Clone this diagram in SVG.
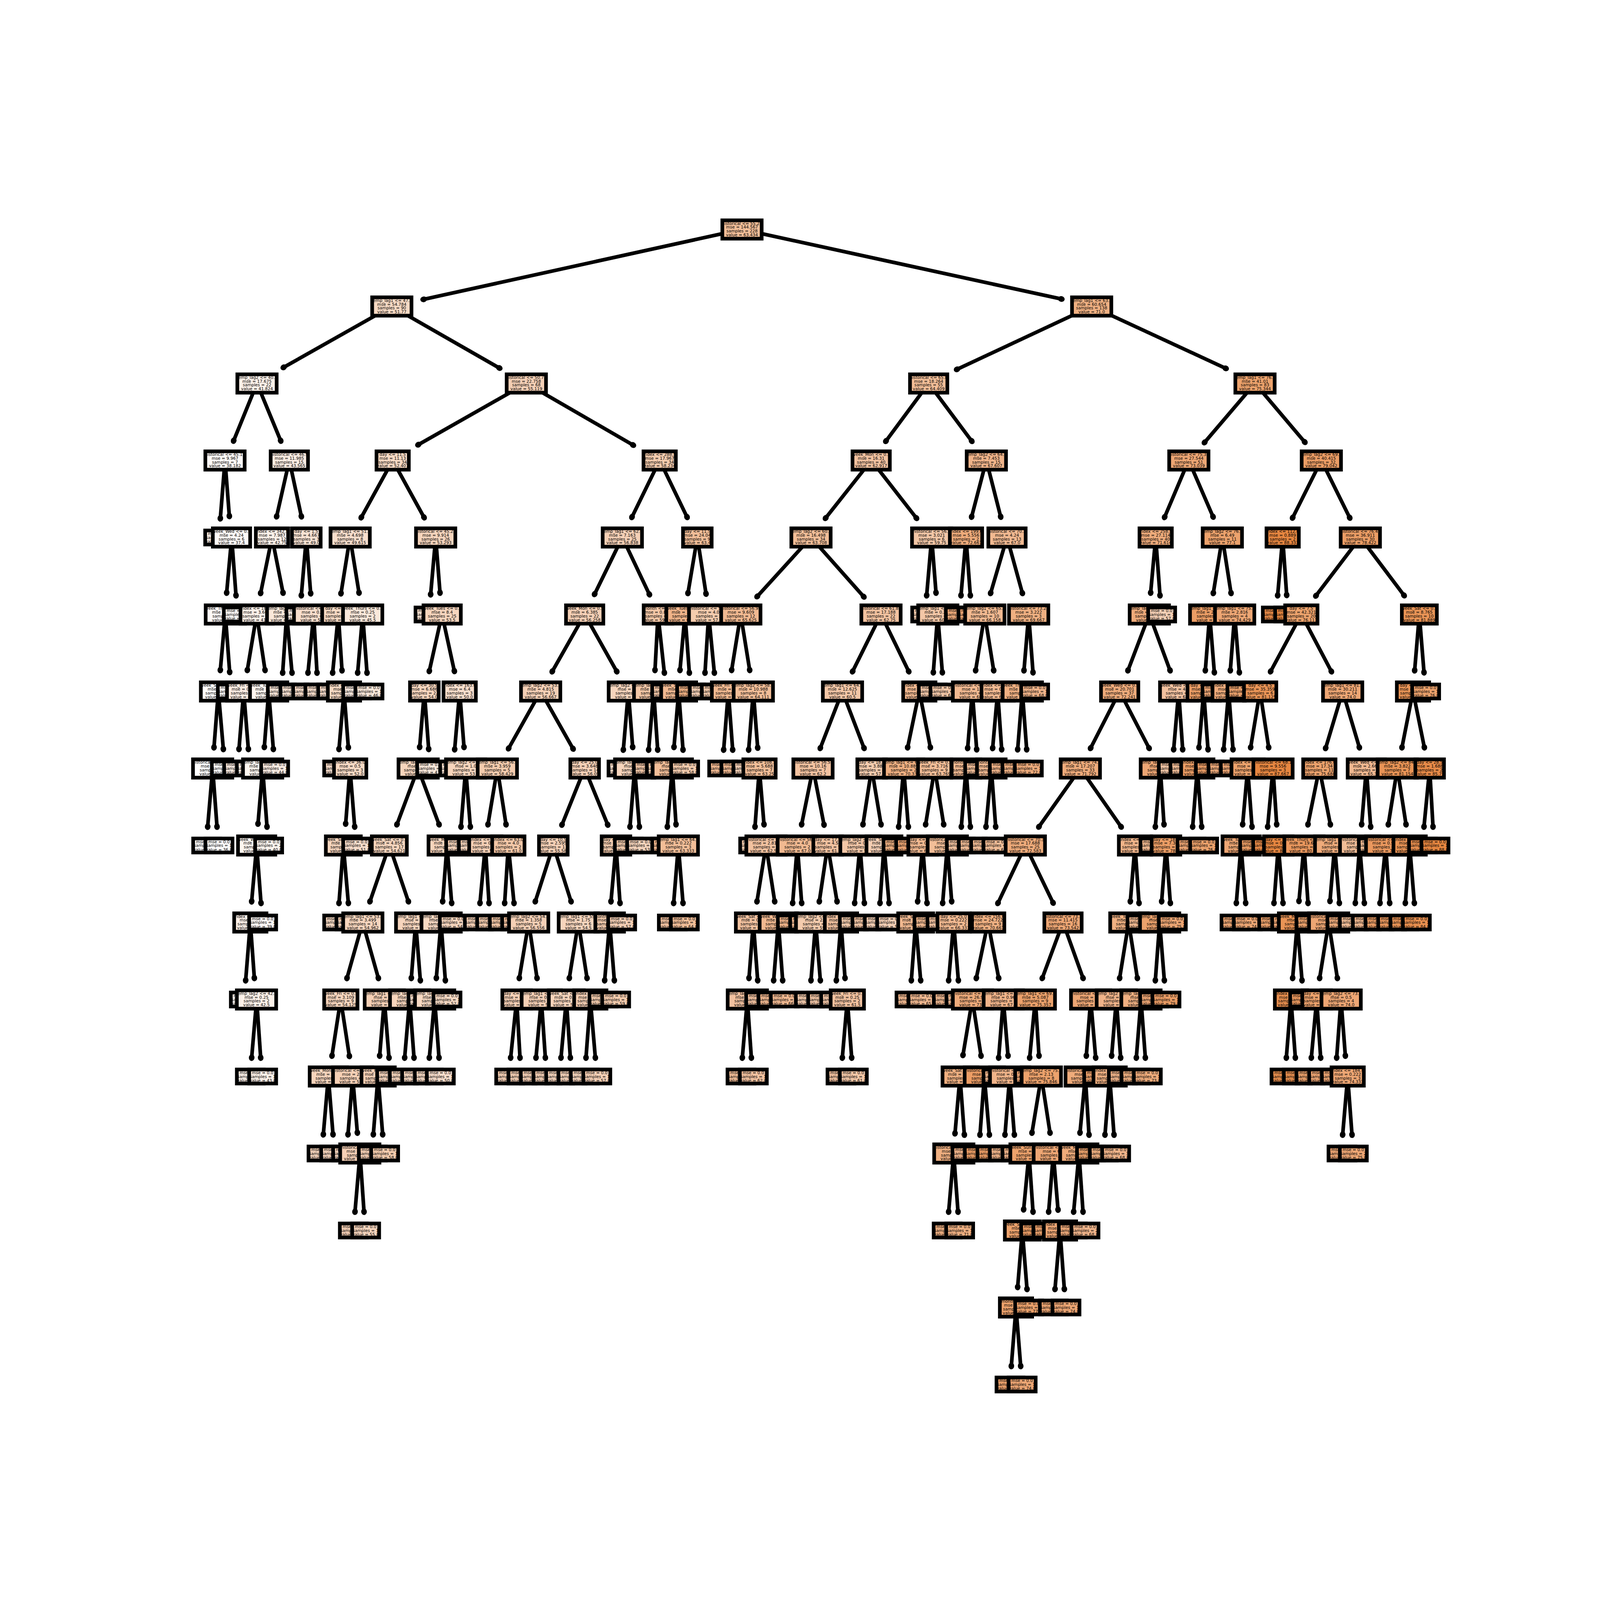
<svg xmlns="http://www.w3.org/2000/svg" width="4800" height="4800" viewBox="0 0 4800 4800">
<style>
:root{display:block;width:100vw;height:100vh;overflow:hidden}
text{font:12.4px "DejaVu Sans",sans-serif;text-anchor:middle;fill:#000}
.s{fill:none;stroke:#000;stroke-width:11}
#edges path{fill:none;stroke:#000;stroke-width:11;marker-end:url(#h)}
.c36{fill:#fff}.c38{fill:#fefaf8}.c40{fill:#fdf6f0}.c42{fill:#fcf1e9}.c44{fill:#fbece2}.c46{fill:#fae8da}.c48{fill:#f9e3d3}.c50{fill:#f8decc}.c52{fill:#f7dac4}.c54{fill:#f6d5bd}.c56{fill:#f5d0b6}.c58{fill:#f4ccae}.c60{fill:#f3c7a7}.c62{fill:#f2c2a0}.c64{fill:#f2be98}.c66{fill:#f1b991}.c68{fill:#f0b48a}.c70{fill:#efb082}.c72{fill:#eeab7b}.c74{fill:#eda674}.c76{fill:#eca26c}.c78{fill:#eb9d65}.c80{fill:#ea985e}.c82{fill:#e99456}.c84{fill:#e88f4f}.c86{fill:#e78a48}.c88{fill:#e68640}
</style>
<defs>
<marker id="h" markerUnits="userSpaceOnUse" markerWidth="30" markerHeight="30" refX="15" refY="15" orient="auto"><ellipse cx="15" cy="15" rx="10" ry="8.5"/></marker>
<rect id="a" x="-59" y="-27.5" width="118" height="55"/>
<rect id="b" x="-56" y="-27.5" width="112" height="55"/>
<rect id="d" x="-52.5" y="-27.5" width="105" height="55"/>
<rect id="e" x="-50" y="-27.5" width="100" height="55"/>
<rect id="f" x="-48.5" y="-27.5" width="97" height="55"/>
<rect id="g" x="-43" y="-27.5" width="86" height="55"/>
<rect id="l" x="-40.5" y="-21" width="81" height="42"/>
</defs>
<rect width="4800" height="4800" fill="#fff"/>
<g id="edges">
<path d="M2226 688L1271 898"/><path d="M2226 688L3184 897"/>
<path d="M1175 919L851 1102"/><path d="M1175 919L1498 1104"/><path d="M3275 919L2871 1108"/><path d="M3275 919L3677 1105"/>
<path d="M771 1150L701 1322"/><path d="M771 1150L842 1322"/><path d="M1579 1150L1255 1334"/><path d="M1579 1150L1899 1335"/><path d="M2786 1150L2658 1323"/><path d="M2786 1150L2915 1323"/><path d="M3765 1150L3614 1327"/><path d="M3765 1150L3914 1326"/>
<path d="M675 1381L661 1555"/><path d="M675 1381L688 1548"/><path d="M868 1381L830 1549"/><path d="M868 1381L904 1549"/><path d="M1178 1381L1084 1552"/><path d="M1178 1381L1272 1552"/><path d="M1979 1381L1896 1551"/><path d="M1979 1381L2061 1551"/><path d="M2614 1381L2477 1554"/><path d="M2614 1381L2749 1554"/><path d="M2959 1381L2915 1550"/><path d="M2959 1381L3002 1550"/><path d="M3566 1381L3494 1551"/><path d="M3566 1381L3639 1550"/><path d="M3964 1381L3878 1553"/><path d="M3964 1381L4049 1553"/>
<path d="M695 1612L680 1778"/><path d="M695 1612L708 1786"/><path d="M816 1612L782 1779"/><path d="M816 1612L849 1778"/><path d="M919 1612L904 1786"/><path d="M919 1612L932 1780"/><path d="M1050 1612L1023 1780"/><path d="M1050 1612L1077 1778"/><path d="M1307 1612L1292 1783"/><path d="M1307 1612L1320 1778"/><path d="M1867 1612L1784 1782"/><path d="M1867 1612L1948 1783"/><path d="M2092 1612L2064 1779"/><path d="M2092 1612L2118 1781"/><path d="M2433 1612L2272 1789"/><path d="M2433 1612L2591 1790"/><path d="M2795 1612L2780 1786"/><path d="M2795 1612L2808 1778"/><path d="M2898 1612L2883 1786"/><path d="M2898 1612L2911 1786"/><path d="M3021 1612L2972 1779"/><path d="M3021 1612L3067 1779"/><path d="M3467 1612L3452 1778"/><path d="M3467 1612L3480 1786"/><path d="M3667 1612L3640 1779"/><path d="M3667 1612L3693 1779"/><path d="M3848 1612L3833 1786"/><path d="M3848 1612L3860 1785"/><path d="M4081 1612L3948 1787"/><path d="M4081 1612L4212 1786"/>
<path d="M676 1843L661 2010"/><path d="M676 1843L689 2016"/><path d="M770 1843L742 2010"/><path d="M770 1843L795 2010"/><path d="M860 1843L848 2018"/><path d="M860 1843L876 2018"/><path d="M941 1843L924 2018"/><path d="M941 1843L951 2018"/><path d="M1015 1843L998 2018"/><path d="M1015 1843L1026 2011"/><path d="M1088 1843L1073 2018"/><path d="M1088 1843L1101 2018"/><path d="M1326 1843L1288 2013"/><path d="M1326 1843L1363 2013"/><path d="M1754 1843L1657 2014"/><path d="M1754 1843L1850 2014"/><path d="M1974 1843L1965 2010"/><path d="M1974 1843L1993 2018"/><path d="M2055 1843L2040 2010"/><path d="M2055 1843L2068 2018"/><path d="M2126 1843L2115 2018"/><path d="M2126 1843L2143 2018"/><path d="M2222 1843L2195 2010"/><path d="M2222 1843L2249 2010"/><path d="M2643 1843L2558 2014"/><path d="M2643 1843L2726 2014"/><path d="M2813 1843L2800 2017"/><path d="M2813 1843L2827 2017"/><path d="M2954 1843L2927 2011"/><path d="M2954 1843L2981 2011"/><path d="M3086 1843L3072 2011"/><path d="M3086 1843L3099 2017"/><path d="M3448 1843L3384 2011"/><path d="M3448 1843L3510 2011"/><path d="M3629 1843L3616 2011"/><path d="M3629 1843L3643 2017"/><path d="M3704 1843L3691 2011"/><path d="M3704 1843L3718 2017"/><path d="M3904 1843L3812 2014"/><path d="M3904 1843L3994 2014"/><path d="M4258 1843L4244 2011"/><path d="M4258 1843L4272 2017"/>
<path d="M655 2074L642 2242"/><path d="M655 2074L670 2247"/><path d="M731 2074L717 2247"/><path d="M731 2074L745 2247"/><path d="M806 2074L793 2241"/><path d="M806 2074L820 2247"/><path d="M1032 2074L1017 2247"/><path d="M1032 2074L1045 2242"/><path d="M1273 2074L1259 2241"/><path d="M1273 2074L1286 2247"/><path d="M1379 2074L1364 2248"/><path d="M1379 2074L1392 2241"/><path d="M1622 2074L1526 2245"/><path d="M1622 2074L1719 2246"/><path d="M1885 2074L1870 2249"/><path d="M1885 2074L1898 2241"/><path d="M1961 2074L1946 2249"/><path d="M1961 2074L1973 2249"/><path d="M2036 2074L2022 2241"/><path d="M2036 2074L2049 2249"/><path d="M2185 2074L2171 2249"/><path d="M2185 2074L2198 2249"/><path d="M2260 2074L2246 2249"/><path d="M2260 2074L2273 2243"/><path d="M2527 2074L2461 2244"/><path d="M2527 2074L2592 2244"/><path d="M2758 2074L2723 2242"/><path d="M2758 2074L2791 2242"/><path d="M2917 2074L2903 2244"/><path d="M2917 2074L2930 2248"/><path d="M2993 2074L2978 2244"/><path d="M2993 2074L3005 2248"/><path d="M3067 2074L3053 2248"/><path d="M3067 2074L3080 2248"/><path d="M3359 2074L3272 2244"/><path d="M3359 2074L3447 2244"/><path d="M3536 2074L3521 2248"/><path d="M3536 2074L3548 2248"/><path d="M3611 2074L3597 2242"/><path d="M3611 2074L3624 2248"/><path d="M3686 2074L3671 2248"/><path d="M3686 2074L3699 2248"/><path d="M3780 2074L3752 2242"/><path d="M3780 2074L3806 2242"/><path d="M4028 2074L3977 2244"/><path d="M4028 2074L4078 2242"/><path d="M4239 2074L4206 2242"/><path d="M4239 2074L4273 2242"/>
<path d="M638 2305L623 2480"/><path d="M638 2305L651 2480"/><path d="M788 2305L774 2471"/><path d="M788 2305L801 2480"/><path d="M1050 2305L1037 2471"/><path d="M1050 2305L1064 2480"/><path d="M1254 2305L1191 2473"/><path d="M1254 2305L1317 2473"/><path d="M1397 2305L1383 2480"/><path d="M1397 2305L1411 2480"/><path d="M1492 2305L1464 2473"/><path d="M1492 2305L1518 2473"/><path d="M1754 2305L1686 2474"/><path d="M1754 2305L1823 2474"/><path d="M1904 2305L1890 2480"/><path d="M1904 2305L1918 2480"/><path d="M2017 2305L2002 2480"/><path d="M2017 2305L2028 2473"/><path d="M2278 2305L2265 2480"/><path d="M2278 2305L2292 2473"/><path d="M2439 2305L2405 2473"/><path d="M2439 2305L2472 2474"/><path d="M2615 2305L2589 2473"/><path d="M2615 2305L2643 2473"/><path d="M2711 2305L2696 2480"/><path d="M2711 2305L2725 2480"/><path d="M2804 2305L2777 2473"/><path d="M2804 2305L2831 2473"/><path d="M2898 2305L2884 2480"/><path d="M2898 2305L2911 2480"/><path d="M2974 2305L2958 2480"/><path d="M2974 2305L2987 2480"/><path d="M3241 2305L3117 2480"/><path d="M3241 2305L3363 2480"/><path d="M3481 2305L3466 2480"/><path d="M3481 2305L3492 2473"/><path d="M3592 2305L3578 2480"/><path d="M3592 2305L3605 2480"/><path d="M3743 2305L3728 2473"/><path d="M3743 2305L3756 2480"/><path d="M3819 2305L3803 2480"/><path d="M3819 2305L3830 2473"/><path d="M3958 2305L3924 2473"/><path d="M3958 2305L3991 2473"/><path d="M4099 2305L4085 2473"/><path d="M4099 2305L4112 2480"/><path d="M4192 2305L4165 2473"/><path d="M4192 2305L4218 2473"/><path d="M4289 2305L4272 2480"/><path d="M4289 2305L4299 2480"/>
<path d="M770 2536L755 2704"/><path d="M770 2536L783 2709"/><path d="M1030 2536L1017 2709"/><path d="M1030 2536L1045 2709"/><path d="M1168 2536L1110 2704"/><path d="M1168 2536L1225 2704"/><path d="M1341 2536L1328 2704"/><path d="M1341 2536L1355 2709"/><path d="M1456 2536L1440 2709"/><path d="M1456 2536L1467 2709"/><path d="M1525 2536L1514 2709"/><path d="M1525 2536L1542 2709"/><path d="M1660 2536L1606 2704"/><path d="M1660 2536L1713 2704"/><path d="M1848 2536L1833 2704"/><path d="M1848 2536L1860 2709"/><path d="M2035 2536L2021 2709"/><path d="M2035 2536L2049 2709"/><path d="M2298 2536L2271 2704"/><path d="M2298 2536L2324 2704"/><path d="M2392 2536L2378 2709"/><path d="M2392 2536L2405 2709"/><path d="M2483 2536L2458 2704"/><path d="M2483 2536L2511 2704"/><path d="M2580 2536L2564 2709"/><path d="M2580 2536L2593 2709"/><path d="M2652 2536L2640 2709"/><path d="M2652 2536L2667 2709"/><path d="M2768 2536L2753 2704"/><path d="M2768 2536L2781 2709"/><path d="M2842 2536L2828 2709"/><path d="M2842 2536L2855 2704"/><path d="M3076 2536L2994 2709"/><path d="M3076 2536L3159 2708"/><path d="M3405 2536L3391 2704"/><path d="M3405 2536L3417 2709"/><path d="M3498 2536L3485 2704"/><path d="M3498 2536L3511 2709"/><path d="M3723 2536L3709 2709"/><path d="M3723 2536L3737 2709"/><path d="M3835 2536L3822 2709"/><path d="M3835 2536L3849 2709"/><path d="M3912 2536L3897 2703"/><path d="M3912 2536L3924 2709"/><path d="M4004 2536L3990 2703"/><path d="M4004 2536L4018 2709"/><path d="M4079 2536L4066 2709"/><path d="M4079 2536L4093 2709"/><path d="M4157 2536L4140 2709"/><path d="M4157 2536L4169 2709"/><path d="M4229 2536L4216 2709"/><path d="M4229 2536L4243 2709"/>
<path d="M751 2767L737 2941"/><path d="M751 2767L763 2934"/><path d="M1088 2767L1041 2934"/><path d="M1088 2767L1135 2934"/><path d="M1247 2767L1234 2934"/><path d="M1247 2767L1261 2941"/><path d="M1323 2767L1309 2934"/><path d="M1323 2767L1336 2941"/><path d="M1586 2767L1558 2934"/><path d="M1586 2767L1611 2934"/><path d="M1735 2767L1708 2934"/><path d="M1735 2767L1761 2934"/><path d="M1829 2767L1814 2941"/><path d="M1829 2767L1843 2941"/><path d="M2260 2767L2247 2934"/><path d="M2260 2767L2273 2941"/><path d="M2335 2767L2321 2941"/><path d="M2335 2767L2348 2941"/><path d="M2447 2767L2433 2941"/><path d="M2447 2767L2461 2941"/><path d="M2523 2767L2509 2941"/><path d="M2523 2767L2535 2934"/><path d="M2747 2767L2734 2941"/><path d="M2747 2767L2762 2941"/><path d="M2861 2767L2846 2941"/><path d="M2861 2767L2875 2941"/><path d="M2964 2767L2929 2934"/><path d="M2964 2767L2996 2934"/><path d="M3189 2767L3127 2934"/><path d="M3189 2767L3249 2934"/><path d="M3386 2767L3359 2934"/><path d="M3386 2767L3412 2934"/><path d="M3479 2767L3466 2941"/><path d="M3479 2767L3493 2941"/><path d="M3892 2767L3878 2934"/><path d="M3892 2767L3906 2941"/><path d="M3986 2767L3959 2934"/><path d="M3986 2767L4012 2934"/>
<path d="M770 2998L755 3173"/><path d="M770 2998L782 3173"/><path d="M1022 2998L996 3167"/><path d="M1022 2998L1048 3168"/><path d="M1153 2998L1139 3167"/><path d="M1153 2998L1167 3173"/><path d="M1229 2998L1214 3173"/><path d="M1229 2998L1242 3173"/><path d="M1304 2998L1288 3173"/><path d="M1304 2998L1317 3173"/><path d="M1550 2998L1532 3173"/><path d="M1550 2998L1560 3173"/><path d="M1624 2998L1608 3173"/><path d="M1624 2998L1636 3173"/><path d="M1699 2998L1683 3173"/><path d="M1699 2998L1711 3173"/><path d="M1771 2998L1758 3173"/><path d="M1771 2998L1786 3173"/><path d="M2242 2998L2227 3173"/><path d="M2242 2998L2254 3173"/><path d="M2542 2998L2527 3173"/><path d="M2542 2998L2555 3173"/><path d="M2917 2998L2889 3165"/><path d="M2917 2998L2943 3167"/><path d="M3010 2998L2996 3173"/><path d="M3010 2998L3024 3167"/><path d="M3106 2998L3089 3173"/><path d="M3106 2998L3117 3167"/><path d="M3272 2998L3259 3167"/><path d="M3272 2998L3287 3173"/><path d="M3349 2998L3335 3167"/><path d="M3349 2998L3362 3173"/><path d="M3423 2998L3409 3173"/><path d="M3423 2998L3436 3173"/><path d="M3873 2998L3859 3173"/><path d="M3873 2998L3886 3173"/><path d="M3950 2998L3934 3173"/><path d="M3950 2998L3962 3173"/><path d="M4023 2998L4010 3173"/><path d="M4023 2998L4036 3167"/>
<path d="M985 3229L970 3403"/><path d="M985 3229L999 3403"/><path d="M1058 3229L1044 3403"/><path d="M1058 3229L1072 3398"/><path d="M1134 3229L1120 3403"/><path d="M1134 3229L1148 3403"/><path d="M2880 3229L2865 3400"/><path d="M2880 3229L2893 3404"/><path d="M2953 3229L2940 3404"/><path d="M2953 3229L2968 3404"/><path d="M3029 3229L3015 3404"/><path d="M3029 3229L3043 3404"/><path d="M3124 3229L3096 3398"/><path d="M3124 3229L3150 3398"/><path d="M3256 3229L3240 3398"/><path d="M3256 3229L3267 3404"/><path d="M3329 3229L3315 3404"/><path d="M3329 3229L3342 3404"/><path d="M4043 3229L4028 3404"/><path d="M4043 3229L4056 3404"/>
<path d="M1080 3460L1065 3635"/><path d="M1080 3460L1092 3635"/><path d="M2861 3460L2846 3635"/><path d="M2861 3460L2874 3635"/><path d="M3087 3460L3071 3628"/><path d="M3087 3460L3099 3635"/><path d="M3160 3460L3146 3635"/><path d="M3160 3460L3174 3629"/><path d="M3237 3460L3221 3635"/><path d="M3237 3460L3249 3635"/>
<path d="M3067 3691L3053 3861"/><path d="M3067 3691L3081 3867"/><path d="M3180 3691L3165 3867"/><path d="M3180 3691L3193 3867"/>
<path d="M3048 3922L3034 4098"/><path d="M3048 3922L3062 4098"/>
</g>
<g id="r0" transform="translate(0 688.5)">
<g id="n0_1" class="c64" transform="translate(2226)"><use href="#a"/><text y="-14">historical &lt;= 55.25<tspan x="0" y="-2.5">mse = 144.567</tspan><tspan x="0" y="9">samples = 228</tspan><tspan x="0" y="20.5">value = 63.434</tspan></text><use href="#a" class="s"/></g>
</g>
<g id="r1" transform="translate(0 919.5)">
<g id="n1_1" class="c52" transform="translate(1175.5)"><use href="#a"/><text y="-14">temp_lag1 &lt;= 47.5<tspan x="0" y="-2.5">mse = 54.784</tspan><tspan x="0" y="9">samples = 90</tspan><tspan x="0" y="20.5">value = 51.77</tspan></text><use href="#a" class="s"/></g>
<g id="n1_2" class="c70" transform="translate(3275)"><use href="#a"/><text y="-14">temp_lag1 &lt;= 63.5<tspan x="0" y="-2.5">mse = 60.654</tspan><tspan x="0" y="9">samples = 138</tspan><tspan x="0" y="20.5">value = 71.0</tspan></text><use href="#a" class="s"/></g>
</g>
<g id="r2" transform="translate(0 1150.5)">
<g id="n2_1" class="c42" transform="translate(771)"><use href="#a"/><text y="-14">temp_lag2 &lt;= 40.5<tspan x="0" y="-2.5">mse = 17.675</tspan><tspan x="0" y="9">samples = 22</tspan><tspan x="0" y="20.5">value = 41.824</tspan></text><use href="#a" class="s"/></g>
<g id="n2_2" class="c56" transform="translate(1579)"><use href="#a"/><text y="-14">historical &lt;= 50.75<tspan x="0" y="-2.5">mse = 22.758</tspan><tspan x="0" y="9">samples = 68</tspan><tspan x="0" y="20.5">value = 55.119</tspan></text><use href="#a" class="s"/></g>
<g id="n2_3" class="c64" transform="translate(2786)"><use href="#b"/><text y="-14">historical &lt;= 65.8<tspan x="0" y="-2.5">mse = 18.264</tspan><tspan x="0" y="9">samples = 55</tspan><tspan x="0" y="20.5">value = 64.409</tspan></text><use href="#b" class="s"/></g>
<g id="n2_4" class="c76" transform="translate(3765)"><use href="#a"/><text y="-14">temp_lag1 &lt;= 76.5<tspan x="0" y="-2.5">mse = 41.01</tspan><tspan x="0" y="9">samples = 83</tspan><tspan x="0" y="20.5">value = 75.344</tspan></text><use href="#a" class="s"/></g>
</g>
<g id="r3" transform="translate(0 1381.5)">
<g id="n3_1" class="c38" transform="translate(675)"><use href="#a"/><text y="-14">historical &lt;= 45.15<tspan x="0" y="-2.5">mse = 9.967</tspan><tspan x="0" y="9">samples = 7</tspan><tspan x="0" y="20.5">value = 38.182</tspan></text><use href="#a" class="s"/></g>
<g id="n3_2" class="c44" transform="translate(868)"><use href="#b"/><text y="-14">historical &lt;= 46.9<tspan x="0" y="-2.5">mse = 11.985</tspan><tspan x="0" y="9">samples = 15</tspan><tspan x="0" y="20.5">value = 43.565</tspan></text><use href="#b" class="s"/></g>
<g id="n3_3" class="c52" transform="translate(1178)"><use href="#f"/><text y="-14">day &lt;= 11.5<tspan x="0" y="-2.5">mse = 11.13</tspan><tspan x="0" y="9">samples = 34</tspan><tspan x="0" y="20.5">value = 52.407</tspan></text><use href="#f" class="s"/></g>
<g id="n3_4" class="c58" transform="translate(1979)"><use href="#f"/><text y="-14">index &lt;= 288.5<tspan x="0" y="-2.5">mse = 17.967</tspan><tspan x="0" y="9">samples = 34</tspan><tspan x="0" y="20.5">value = 58.234</tspan></text><use href="#f" class="s"/></g>
<g id="n3_5" class="c62" transform="translate(2613.5)"><use href="#b"/><text y="-14">week_Mon &lt;= 0.5<tspan x="0" y="-2.5">mse = 16.31</tspan><tspan x="0" y="9">samples = 40</tspan><tspan x="0" y="20.5">value = 62.917</tspan></text><use href="#b" class="s"/></g>
<g id="n3_6" class="c68" transform="translate(2959)"><use href="#a"/><text y="-14">temp_lag2 &lt;= 64.5<tspan x="0" y="-2.5">mse = 7.453</tspan><tspan x="0" y="9">samples = 15</tspan><tspan x="0" y="20.5">value = 67.607</tspan></text><use href="#a" class="s"/></g>
<g id="n3_7" class="c74" transform="translate(3566.5)"><use href="#a"/><text y="-14">historical &lt;= 75.35<tspan x="0" y="-2.5">mse = 27.544</tspan><tspan x="0" y="9">samples = 51</tspan><tspan x="0" y="20.5">value = 73.039</tspan></text><use href="#a" class="s"/></g>
<g id="n3_8" class="c78" transform="translate(3964)"><use href="#a"/><text y="-14">temp_lag2 &lt;= 69.5<tspan x="0" y="-2.5">mse = 40.415</tspan><tspan x="0" y="9">samples = 32</tspan><tspan x="0" y="20.5">value = 79.042</tspan></text><use href="#a" class="s"/></g>
</g>
<g id="r4" transform="translate(0 1612.5)">
<g id="n4_1" class="c42" transform="translate(656)"><use href="#l"/><text y="-7">mse = 0.0<tspan x="0" y="4.5">samples = 1</tspan><tspan x="0" y="16.5">value = 42.0</tspan></text><use href="#l" class="s"/></g>
<g id="n4_2" class="c38" transform="translate(694.5)"><use href="#b"/><text y="-14">week_Wed &lt;= 0.5<tspan x="0" y="-2.5">mse = 4.24</tspan><tspan x="0" y="9">samples = 6</tspan><tspan x="0" y="20.5">value = 37.4</tspan></text><use href="#b" class="s"/></g>
<g id="n4_3" class="c42" transform="translate(816)"><use href="#f"/><text y="-14">index &lt;= 342.5<tspan x="0" y="-2.5">mse = 7.987</tspan><tspan x="0" y="9">samples = 12</tspan><tspan x="0" y="20.5">value = 42.75</tspan></text><use href="#f" class="s"/></g>
<g id="n4_4" class="c48" transform="translate(919)"><use href="#g"/><text y="-14">day &lt;= 1.5<tspan x="0" y="-2.5">mse = 4.667</tspan><tspan x="0" y="9">samples = 3</tspan><tspan x="0" y="20.5">value = 49.0</tspan></text><use href="#g" class="s"/></g>
<g id="n4_5" class="c50" transform="translate(1050.5)"><use href="#a"/><text y="-14">temp_lag1 &lt;= 51.5<tspan x="0" y="-2.5">mse = 4.698</tspan><tspan x="0" y="9">samples = 8</tspan><tspan x="0" y="20.5">value = 49.615</tspan></text><use href="#a" class="s"/></g>
<g id="n4_6" class="c54" transform="translate(1307)"><use href="#a"/><text y="-14">historical &lt;= 45.25<tspan x="0" y="-2.5">mse = 9.914</tspan><tspan x="0" y="9">samples = 26</tspan><tspan x="0" y="20.5">value = 53.293</tspan></text><use href="#a" class="s"/></g>
<g id="n4_7" class="c56" transform="translate(1867)"><use href="#a"/><text y="-14">temp_lag1 &lt;= 62.0<tspan x="0" y="-2.5">mse = 7.163</tspan><tspan x="0" y="9">samples = 25</tspan><tspan x="0" y="20.5">value = 56.838</tspan></text><use href="#a" class="s"/></g>
<g id="n4_8" class="c64" transform="translate(2092)"><use href="#g"/><text y="-14">day &lt;= 11.5<tspan x="0" y="-2.5">mse = 24.04</tspan><tspan x="0" y="9">samples = 9</tspan><tspan x="0" y="20.5">value = 63.4</tspan></text><use href="#g" class="s"/></g>
<g id="n4_9" class="c64" transform="translate(2433)"><use href="#a"/><text y="-14">temp_lag2 &lt;= 60.5<tspan x="0" y="-2.5">mse = 16.498</tspan><tspan x="0" y="9">samples = 34</tspan><tspan x="0" y="20.5">value = 63.708</tspan></text><use href="#a" class="s"/></g>
<g id="n4_10" class="c60" transform="translate(2795)"><use href="#a"/><text y="-14">historical &lt;= 56.1<tspan x="0" y="-2.5">mse = 3.021</tspan><tspan x="0" y="9">samples = 6</tspan><tspan x="0" y="20.5">value = 59.75</tspan></text><use href="#a" class="s"/></g>
<g id="n4_11" class="c72" transform="translate(2898)"><use href="#f"/><text y="-14">index &lt;= 199.0<tspan x="0" y="-2.5">mse = 5.556</tspan><tspan x="0" y="9">samples = 2</tspan><tspan x="0" y="20.5">value = 72.667</tspan></text><use href="#f" class="s"/></g>
<g id="n4_12" class="c66" transform="translate(3021)"><use href="#b"/><text y="-14">historical &lt;= 70.3<tspan x="0" y="-2.5">mse = 4.24</tspan><tspan x="0" y="9">samples = 13</tspan><tspan x="0" y="20.5">value = 67.0</tspan></text><use href="#b" class="s"/></g>
<g id="n4_13" class="c72" transform="translate(3467)"><use href="#f"/><text y="-14">index &lt;= 258.5<tspan x="0" y="-2.5">mse = 27.114</tspan><tspan x="0" y="9">samples = 40</tspan><tspan x="0" y="20.5">value = 71.614</tspan></text><use href="#f" class="s"/></g>
<g id="n4_14" class="c76" transform="translate(3667)"><use href="#a"/><text y="-14">temp_lag2 &lt;= 76.5<tspan x="0" y="-2.5">mse = 6.49</tspan><tspan x="0" y="9">samples = 11</tspan><tspan x="0" y="20.5">value = 77.1</tspan></text><use href="#a" class="s"/></g>
<g id="n4_15" class="c88" transform="translate(3848)"><use href="#f"/><text y="-14">index &lt;= 112.0<tspan x="0" y="-2.5">mse = 0.889</tspan><tspan x="0" y="9">samples = 2</tspan><tspan x="0" y="20.5">value = 88.333</tspan></text><use href="#f" class="s"/></g>
<g id="n4_16" class="c78" transform="translate(4081)"><use href="#a"/><text y="-14">historical &lt;= 76.45<tspan x="0" y="-2.5">mse = 36.911</tspan><tspan x="0" y="9">samples = 30</tspan><tspan x="0" y="20.5">value = 78.422</tspan></text><use href="#a" class="s"/></g>
</g>
<g id="r5" transform="translate(0 1843.5)">
<g id="n5_1" class="c38" transform="translate(676)"><use href="#a"/><text y="-14">week_Thurs &lt;= 0.5<tspan x="0" y="-2.5">mse = 0.667</tspan><tspan x="0" y="9">samples = 3</tspan><tspan x="0" y="20.5">value = 36.5</tspan></text><use href="#a" class="s"/></g>
<g id="n5_2" class="c38" transform="translate(712)"><use href="#l"/><text y="-7">mse = 0.0<tspan x="0" y="4.5">samples = 2</tspan><tspan x="0" y="16.5">value = 39.0</tspan></text><use href="#l" class="s"/></g>
<g id="n5_3" class="c42" transform="translate(770)"><use href="#f"/><text y="-14">index &lt;= 184.5<tspan x="0" y="-2.5">mse = 3.604</tspan><tspan x="0" y="9">samples = 10</tspan><tspan x="0" y="20.5">value = 41.6</tspan></text><use href="#f" class="s"/></g>
<g id="n5_4" class="c46" transform="translate(860)"><use href="#a"/><text y="-14">temp_lag1 &lt;= 46.5<tspan x="0" y="-2.5">mse = 0.889</tspan><tspan x="0" y="9">samples = 2</tspan><tspan x="0" y="20.5">value = 46.667</tspan></text><use href="#a" class="s"/></g>
<g id="n5_5" class="c44" transform="translate(900)"><use href="#l"/><text y="-7">mse = 0.0<tspan x="0" y="4.5">samples = 1</tspan><tspan x="0" y="16.5">value = 43.0</tspan></text><use href="#l" class="s"/></g>
<g id="n5_6" class="c50" transform="translate(941)"><use href="#a"/><text y="-14">historical &lt;= 50.8<tspan x="0" y="-2.5">mse = 0.25</tspan><tspan x="0" y="9">samples = 2</tspan><tspan x="0" y="20.5">value = 50.5</tspan></text><use href="#a" class="s"/></g>
<g id="n5_7" class="c52" transform="translate(1015)"><use href="#f"/><text y="-14">day &lt;= 12.5<tspan x="0" y="-2.5">mse = 1.25</tspan><tspan x="0" y="9">samples = 6</tspan><tspan x="0" y="20.5">value = 51.5</tspan></text><use href="#f" class="s"/></g>
<g id="n5_8" class="c46" transform="translate(1088)"><use href="#a"/><text y="-14">week_Thurs &lt;= 0.5<tspan x="0" y="-2.5">mse = 0.25</tspan><tspan x="0" y="9">samples = 2</tspan><tspan x="0" y="20.5">value = 45.5</tspan></text><use href="#a" class="s"/></g>
<g id="n5_9" class="c48" transform="translate(1287)"><use href="#l"/><text y="-7">mse = 0.0<tspan x="0" y="4.5">samples = 1</tspan><tspan x="0" y="16.5">value = 48.0</tspan></text><use href="#l" class="s"/></g>
<g id="n5_10" class="c54" transform="translate(1326.5)"><use href="#b"/><text y="-14">week_Tues &lt;= 0.5<tspan x="0" y="-2.5">mse = 8.4</tspan><tspan x="0" y="9">samples = 25</tspan><tspan x="0" y="20.5">value = 53.5</tspan></text><use href="#b" class="s"/></g>
<g id="n5_11" class="c56" transform="translate(1754)"><use href="#b"/><text y="-14">week_Mon &lt;= 0.5<tspan x="0" y="-2.5">mse = 6.385</tspan><tspan x="0" y="9">samples = 22</tspan><tspan x="0" y="20.5">value = 56.258</tspan></text><use href="#b" class="s"/></g>
<g id="n5_12" class="c60" transform="translate(1974)"><use href="#g"/><text y="-14">month &lt;= 7.5<tspan x="0" y="-2.5">mse = 0.889</tspan><tspan x="0" y="9">samples = 3</tspan><tspan x="0" y="20.5">value = 59.333</tspan></text><use href="#g" class="s"/></g>
<g id="n5_13" class="c68" transform="translate(2055)"><use href="#b"/><text y="-14">week_Tues &lt;= 0.5<tspan x="0" y="-2.5">mse = 1.889</tspan><tspan x="0" y="9">samples = 4</tspan><tspan x="0" y="20.5">value = 68.333</tspan></text><use href="#b" class="s"/></g>
<g id="n5_14" class="c58" transform="translate(2126)"><use href="#a"/><text y="-14">historical &lt;= 53.4<tspan x="0" y="-2.5">mse = 4.0</tspan><tspan x="0" y="9">samples = 2</tspan><tspan x="0" y="20.5">value = 57.0</tspan></text><use href="#a" class="s"/></g>
<g id="n5_15" class="c66" transform="translate(2222.5)"><use href="#a"/><text y="-14">historical &lt;= 56.95<tspan x="0" y="-2.5">mse = 9.609</tspan><tspan x="0" y="9">samples = 12</tspan><tspan x="0" y="20.5">value = 65.625</tspan></text><use href="#a" class="s"/></g>
<g id="n5_16" class="c62" transform="translate(2643)"><use href="#a"/><text y="-14">historical &lt;= 61.85<tspan x="0" y="-2.5">mse = 17.188</tspan><tspan x="0" y="9">samples = 22</tspan><tspan x="0" y="20.5">value = 62.75</tspan></text><use href="#a" class="s"/></g>
<g id="n5_17" class="c58" transform="translate(2777)"><use href="#l"/><text y="-7">mse = 0.0<tspan x="0" y="4.5">samples = 1</tspan><tspan x="0" y="16.5">value = 58.0</tspan></text><use href="#l" class="s"/></g>
<g id="n5_18" class="c60" transform="translate(2813.5)"><use href="#a"/><text y="-14">temp_lag1 &lt;= 63.5<tspan x="0" y="-2.5">mse = 0.222</tspan><tspan x="0" y="9">samples = 4</tspan><tspan x="0" y="20.5">value = 60.667</tspan></text><use href="#a" class="s"/></g>
<g id="n5_19" class="c72" transform="translate(2878)"><use href="#l"/><text y="-7">mse = 0.0<tspan x="0" y="4.5">samples = 1</tspan><tspan x="0" y="16.5">value = 71.0</tspan></text><use href="#l" class="s"/></g>
<g id="n5_20" class="c74" transform="translate(2916)"><use href="#l"/><text y="-7">mse = 0.0<tspan x="0" y="4.5">samples = 1</tspan><tspan x="0" y="16.5">value = 75.0</tspan></text><use href="#l" class="s"/></g>
<g id="n5_21" class="c66" transform="translate(2954.5)"><use href="#a"/><text y="-14">temp_lag1 &lt;= 65.5<tspan x="0" y="-2.5">mse = 1.607</tspan><tspan x="0" y="9">samples = 10</tspan><tspan x="0" y="20.5">value = 66.158</tspan></text><use href="#a" class="s"/></g>
<g id="n5_22" class="c70" transform="translate(3086)"><use href="#a"/><text y="-14">historical &lt;= 73.25<tspan x="0" y="-2.5">mse = 3.222</tspan><tspan x="0" y="9">samples = 3</tspan><tspan x="0" y="20.5">value = 69.667</tspan></text><use href="#a" class="s"/></g>
<g id="n5_23" class="c72" transform="translate(3448)"><use href="#a"/><text y="-14">temp_lag2 &lt;= 69.5<tspan x="0" y="-2.5">mse = 22.147</tspan><tspan x="0" y="9">samples = 39</tspan><tspan x="0" y="20.5">value = 71.9</tspan></text><use href="#a" class="s"/></g>
<g id="n5_24" class="c56" transform="translate(3485)"><use href="#l"/><text y="-7">mse = 0.0<tspan x="0" y="4.5">samples = 1</tspan><tspan x="0" y="16.5">value = 57.0</tspan></text><use href="#l" class="s"/></g>
<g id="n5_25" class="c78" transform="translate(3629)"><use href="#a"/><text y="-14">temp_lag1 &lt;= 71.5<tspan x="0" y="-2.5">mse = 2.188</tspan><tspan x="0" y="9">samples = 7</tspan><tspan x="0" y="20.5">value = 78.5</tspan></text><use href="#a" class="s"/></g>
<g id="n5_26" class="c74" transform="translate(3704)"><use href="#a"/><text y="-14">temp_lag1 &lt;= 75.5<tspan x="0" y="-2.5">mse = 2.816</tspan><tspan x="0" y="9">samples = 4</tspan><tspan x="0" y="20.5">value = 74.429</tspan></text><use href="#a" class="s"/></g>
<g id="n5_27" class="c86" transform="translate(3829)"><use href="#l"/><text y="-7">mse = 0.0<tspan x="0" y="4.5">samples = 1</tspan><tspan x="0" y="16.5">value = 87.0</tspan></text><use href="#l" class="s"/></g>
<g id="n5_28" class="c88" transform="translate(3866)"><use href="#l"/><text y="-7">mse = 0.0<tspan x="0" y="4.5">samples = 1</tspan><tspan x="0" y="16.5">value = 89.0</tspan></text><use href="#l" class="s"/></g>
<g id="n5_29" class="c76" transform="translate(3904)"><use href="#f"/><text y="-14">day &lt;= 7.5<tspan x="0" y="-2.5">mse = 42.321</tspan><tspan x="0" y="9">samples = 20</tspan><tspan x="0" y="20.5">value = 76.111</tspan></text><use href="#f" class="s"/></g>
<g id="n5_30" class="c82" transform="translate(4258)"><use href="#d"/><text y="-14">week_Sat &lt;= 0.5<tspan x="0" y="-2.5">mse = 8.765</tspan><tspan x="0" y="9">samples = 10</tspan><tspan x="0" y="20.5">value = 81.889</tspan></text><use href="#d" class="s"/></g>
</g>
<g id="r6" transform="translate(0 2074.5)">
<g id="n6_1" class="c36" transform="translate(655)"><use href="#d"/><text y="-14">week_Sat &lt;= 0.5<tspan x="0" y="-2.5">mse = 0.5</tspan><tspan x="0" y="9">samples = 3</tspan><tspan x="0" y="20.5">value = 36.5</tspan></text><use href="#d" class="s"/></g>
<g id="n6_2" class="c38" transform="translate(694)"><use href="#l"/><text y="-7">mse = 0.0<tspan x="0" y="4.5">samples = 1</tspan><tspan x="0" y="16.5">value = 38.0</tspan></text><use href="#l" class="s"/></g>
<g id="n6_3" class="c44" transform="translate(731)"><use href="#e"/><text y="-14">week_Fri &lt;= 0.5<tspan x="0" y="-2.5">mse = 0.25</tspan><tspan x="0" y="9">samples = 2</tspan><tspan x="0" y="20.5">value = 44.5</tspan></text><use href="#e" class="s"/></g>
<g id="n6_4" class="c40" transform="translate(806)"><use href="#b"/><text y="-14">week_Tues &lt;= 0.5<tspan x="0" y="-2.5">mse = 1.139</tspan><tspan x="0" y="9">samples = 8</tspan><tspan x="0" y="20.5">value = 40.9</tspan></text><use href="#b" class="s"/></g>
<g id="n6_5" class="c46" transform="translate(844)"><use href="#l"/><text y="-7">mse = 0.0<tspan x="0" y="4.5">samples = 1</tspan><tspan x="0" y="16.5">value = 46.0</tspan></text><use href="#l" class="s"/></g>
<g id="n6_6" class="c48" transform="translate(882)"><use href="#l"/><text y="-7">mse = 0.0<tspan x="0" y="4.5">samples = 1</tspan><tspan x="0" y="16.5">value = 48.0</tspan></text><use href="#l" class="s"/></g>
<g id="n6_7" class="c50" transform="translate(920)"><use href="#l"/><text y="-7">mse = 0.0<tspan x="0" y="4.5">samples = 1</tspan><tspan x="0" y="16.5">value = 50.0</tspan></text><use href="#l" class="s"/></g>
<g id="n6_8" class="c50" transform="translate(957)"><use href="#l"/><text y="-7">mse = 0.0<tspan x="0" y="4.5">samples = 1</tspan><tspan x="0" y="16.5">value = 51.0</tspan></text><use href="#l" class="s"/></g>
<g id="n6_9" class="c50" transform="translate(995)"><use href="#l"/><text y="-7">mse = 0.0<tspan x="0" y="4.5">samples = 1</tspan><tspan x="0" y="16.5">value = 50.0</tspan></text><use href="#l" class="s"/></g>
<g id="n6_10" class="c52" transform="translate(1032)"><use href="#f"/><text y="-14">index &lt;= 112.0<tspan x="0" y="-2.5">mse = 1.0</tspan><tspan x="0" y="9">samples = 4</tspan><tspan x="0" y="20.5">value = 52.0</tspan></text><use href="#f" class="s"/></g>
<g id="n6_11" class="c44" transform="translate(1070)"><use href="#l"/><text y="-7">mse = 0.0<tspan x="0" y="4.5">samples = 1</tspan><tspan x="0" y="16.5">value = 45.0</tspan></text><use href="#l" class="s"/></g>
<g id="n6_12" class="c46" transform="translate(1107)"><use href="#l"/><text y="-7">mse = 0.0<tspan x="0" y="4.5">samples = 1</tspan><tspan x="0" y="16.5">value = 46.0</tspan></text><use href="#l" class="s"/></g>
<g id="n6_13" class="c54" transform="translate(1273)"><use href="#g"/><text y="-14">day &lt;= 30.5<tspan x="0" y="-2.5">mse = 6.686</tspan><tspan x="0" y="9">samples = 22</tspan><tspan x="0" y="20.5">value = 54.0</tspan></text><use href="#g" class="s"/></g>
<g id="n6_14" class="c50" transform="translate(1379)"><use href="#f"/><text y="-14">index &lt;= 163.0<tspan x="0" y="-2.5">mse = 6.4</tspan><tspan x="0" y="9">samples = 3</tspan><tspan x="0" y="20.5">value = 50.0</tspan></text><use href="#f" class="s"/></g>
<g id="n6_15" class="c56" transform="translate(1622)"><use href="#a"/><text y="-14">temp_lag2 &lt;= 53.5<tspan x="0" y="-2.5">mse = 4.815</tspan><tspan x="0" y="9">samples = 19</tspan><tspan x="0" y="20.5">value = 56.667</tspan></text><use href="#a" class="s"/></g>
<g id="n6_16" class="c54" transform="translate(1885)"><use href="#a"/><text y="-14">temp_lag2 &lt;= 58.5<tspan x="0" y="-2.5">mse = 8.0</tspan><tspan x="0" y="9">samples = 3</tspan><tspan x="0" y="20.5">value = 54.0</tspan></text><use href="#a" class="s"/></g>
<g id="n6_17" class="c60" transform="translate(1961)"><use href="#a"/><text y="-14">temp_lag2 &lt;= 56.5<tspan x="0" y="-2.5">mse = 0.688</tspan><tspan x="0" y="9">samples = 2</tspan><tspan x="0" y="20.5">value = 59.75</tspan></text><use href="#a" class="s"/></g>
<g id="n6_18" class="c60" transform="translate(1997)"><use href="#l"/><text y="-7">mse = 0.0<tspan x="0" y="4.5">samples = 1</tspan><tspan x="0" y="16.5">value = 60.0</tspan></text><use href="#l" class="s"/></g>
<g id="n6_19" class="c66" transform="translate(2036)"><use href="#d"/><text y="-14">week_Sat &lt;= 0.5<tspan x="0" y="-2.5">mse = 1.0</tspan><tspan x="0" y="9">samples = 3</tspan><tspan x="0" y="20.5">value = 66.0</tspan></text><use href="#d" class="s"/></g>
<g id="n6_20" class="c70" transform="translate(2072)"><use href="#l"/><text y="-7">mse = 0.0<tspan x="0" y="4.5">samples = 1</tspan><tspan x="0" y="16.5">value = 70.0</tspan></text><use href="#l" class="s"/></g>
<g id="n6_21" class="c56" transform="translate(2110)"><use href="#l"/><text y="-7">mse = 0.0<tspan x="0" y="4.5">samples = 1</tspan><tspan x="0" y="16.5">value = 56.0</tspan></text><use href="#l" class="s"/></g>
<g id="n6_22" class="c58" transform="translate(2146)"><use href="#l"/><text y="-7">mse = 0.0<tspan x="0" y="4.5">samples = 1</tspan><tspan x="0" y="16.5">value = 58.0</tspan></text><use href="#l" class="s"/></g>
<g id="n6_23" class="c66" transform="translate(2185.5)"><use href="#e"/><text y="-14">week_Fri &lt;= 0.5<tspan x="0" y="-2.5">mse = 1.0</tspan><tspan x="0" y="9">samples = 4</tspan><tspan x="0" y="20.5">value = 66.0</tspan></text><use href="#e" class="s"/></g>
<g id="n6_24" class="c64" transform="translate(2260)"><use href="#a"/><text y="-14">temp_lag2 &lt;= 58.0<tspan x="0" y="-2.5">mse = 10.988</tspan><tspan x="0" y="9">samples = 8</tspan><tspan x="0" y="20.5">value = 64.111</tspan></text><use href="#a" class="s"/></g>
<g id="n6_25" class="c60" transform="translate(2527.5)"><use href="#a"/><text y="-14">temp_lag1 &lt;= 64.5<tspan x="0" y="-2.5">mse = 12.625</tspan><tspan x="0" y="9">samples = 11</tspan><tspan x="0" y="20.5">value = 60.5</tspan></text><use href="#a" class="s"/></g>
<g id="n6_26" class="c66" transform="translate(2758)"><use href="#f"/><text y="-14">index &lt;= 187.0<tspan x="0" y="-2.5">mse = 9.25</tspan><tspan x="0" y="9">samples = 11</tspan><tspan x="0" y="20.5">value = 65.5</tspan></text><use href="#f" class="s"/></g>
<g id="n6_27" class="c60" transform="translate(2797)"><use href="#l"/><text y="-7">mse = 0.0<tspan x="0" y="4.5">samples = 1</tspan><tspan x="0" y="16.5">value = 60.0</tspan></text><use href="#l" class="s"/></g>
<g id="n6_28" class="c60" transform="translate(2832)"><use href="#l"/><text y="-7">mse = 0.0<tspan x="0" y="4.5">samples = 3</tspan><tspan x="0" y="16.5">value = 61.0</tspan></text><use href="#l" class="s"/></g>
<g id="n6_29" class="c66" transform="translate(2917.5)"><use href="#a"/><text y="-14">historical &lt;= 58.5<tspan x="0" y="-2.5">mse = 1.3</tspan><tspan x="0" y="9">samples = 6</tspan><tspan x="0" y="20.5">value = 66.5</tspan></text><use href="#a" class="s"/></g>
<g id="n6_30" class="c66" transform="translate(2993)"><use href="#f"/><text y="-14">index &lt;= 131.0<tspan x="0" y="-2.5">mse = 0.889</tspan><tspan x="0" y="9">samples = 4</tspan><tspan x="0" y="20.5">value = 65.667</tspan></text><use href="#f" class="s"/></g>
<g id="n6_31" class="c70" transform="translate(3067)"><use href="#a"/><text y="-14">week_Thurs &lt;= 0.5<tspan x="0" y="-2.5">mse = 0.889</tspan><tspan x="0" y="9">samples = 2</tspan><tspan x="0" y="20.5">value = 70.667</tspan></text><use href="#a" class="s"/></g>
<g id="n6_32" class="c68" transform="translate(3104)"><use href="#l"/><text y="-7">mse = 0.0<tspan x="0" y="4.5">samples = 1</tspan><tspan x="0" y="16.5">value = 68.0</tspan></text><use href="#l" class="s"/></g>
<g id="n6_33" class="c72" transform="translate(3359)"><use href="#b"/><text y="-14">week_Wed &lt;= 0.5<tspan x="0" y="-2.5">mse = 20.701</tspan><tspan x="0" y="9">samples = 37</tspan><tspan x="0" y="20.5">value = 72.241</tspan></text><use href="#b" class="s"/></g>
<g id="n6_34" class="c62" transform="translate(3536)"><use href="#b"/><text y="-14">week_Wed &lt;= 0.5<tspan x="0" y="-2.5">mse = 4.0</tspan><tspan x="0" y="9">samples = 2</tspan><tspan x="0" y="20.5">value = 62.0</tspan></text><use href="#b" class="s"/></g>
<g id="n6_35" class="c78" transform="translate(3611)"><use href="#f"/><text y="-14">day &lt;= 28.5<tspan x="0" y="-2.5">mse = 0.25</tspan><tspan x="0" y="9">samples = 3</tspan><tspan x="0" y="20.5">value = 78.5</tspan></text><use href="#f" class="s"/></g>
<g id="n6_36" class="c74" transform="translate(3648)"><use href="#l"/><text y="-7">mse = 0.0<tspan x="0" y="4.5">samples = 1</tspan><tspan x="0" y="16.5">value = 75.0</tspan></text><use href="#l" class="s"/></g>
<g id="n6_37" class="c72" transform="translate(3686)"><use href="#f"/><text y="-14">index &lt;= 152.5<tspan x="0" y="-2.5">mse = 1.0</tspan><tspan x="0" y="9">samples = 2</tspan><tspan x="0" y="20.5">value = 73.0</tspan></text><use href="#f" class="s"/></g>
<g id="n6_38" class="c76" transform="translate(3723)"><use href="#l"/><text y="-7">mse = 0.0<tspan x="0" y="4.5">samples = 1</tspan><tspan x="0" y="16.5">value = 77.0</tspan></text><use href="#l" class="s"/></g>
<g id="n6_39" class="c82" transform="translate(3780.5)"><use href="#f"/><text y="-14">day &lt;= 4.5<tspan x="0" y="-2.5">mse = 35.359</tspan><tspan x="0" y="9">samples = 6</tspan><tspan x="0" y="20.5">value = 81.125</tspan></text><use href="#f" class="s"/></g>
<g id="n6_40" class="c74" transform="translate(4028)"><use href="#a"/><text y="-14">temp_lag1 &lt;= 81.5<tspan x="0" y="-2.5">mse = 30.211</tspan><tspan x="0" y="9">samples = 14</tspan><tspan x="0" y="20.5">value = 74.0</tspan></text><use href="#a" class="s"/></g>
<g id="n6_41" class="c82" transform="translate(4239)"><use href="#f"/><text y="-14">day &lt;= 25.5<tspan x="0" y="-2.5">mse = 3.141</tspan><tspan x="0" y="9">samples = 9</tspan><tspan x="0" y="20.5">value = 82.0</tspan></text><use href="#f" class="s"/></g>
<g id="n6_42" class="c76" transform="translate(4277)"><use href="#l"/><text y="-7">mse = 0.0<tspan x="0" y="4.5">samples = 1</tspan><tspan x="0" y="16.5">value = 76.0</tspan></text><use href="#l" class="s"/></g>
</g>
<g id="r7" transform="translate(0 2305.5)">
<g id="n7_1" class="c36" transform="translate(638)"><use href="#a"/><text y="-14">historical &lt;= 41.15<tspan x="0" y="-2.5">mse = 0.25</tspan><tspan x="0" y="9">samples = 2</tspan><tspan x="0" y="20.5">value = 36.5</tspan></text><use href="#a" class="s"/></g>
<g id="n7_2" class="c36" transform="translate(676)"><use href="#l"/><text y="-7">mse = 0.0<tspan x="0" y="4.5">samples = 1</tspan><tspan x="0" y="16.5">value = 37.0</tspan></text><use href="#l" class="s"/></g>
<g id="n7_3" class="c44" transform="translate(713)"><use href="#l"/><text y="-7">mse = 0.0<tspan x="0" y="4.5">samples = 1</tspan><tspan x="0" y="16.5">value = 44.0</tspan></text><use href="#l" class="s"/></g>
<g id="n7_4" class="c44" transform="translate(751)"><use href="#l"/><text y="-7">mse = 0.0<tspan x="0" y="4.5">samples = 1</tspan><tspan x="0" y="16.5">value = 45.0</tspan></text><use href="#l" class="s"/></g>
<g id="n7_5" class="c40" transform="translate(788)"><use href="#a"/><text y="-14">temp_lag2 &lt;= 43.0<tspan x="0" y="-2.5">mse = 0.889</tspan><tspan x="0" y="9">samples = 7</tspan><tspan x="0" y="20.5">value = 40.4</tspan></text><use href="#a" class="s"/></g>
<g id="n7_6" class="c44" transform="translate(824)"><use href="#l"/><text y="-7">mse = 0.0<tspan x="0" y="4.5">samples = 1</tspan><tspan x="0" y="16.5">value = 44.0</tspan></text><use href="#l" class="s"/></g>
<g id="n7_7" class="c50" transform="translate(1013)"><use href="#l"/><text y="-7">mse = 0.0<tspan x="0" y="4.5">samples = 1</tspan><tspan x="0" y="16.5">value = 50.0</tspan></text><use href="#l" class="s"/></g>
<g id="n7_8" class="c52" transform="translate(1050.5)"><use href="#f"/><text y="-14">index &lt;= 36.0<tspan x="0" y="-2.5">mse = 0.5</tspan><tspan x="0" y="9">samples = 3</tspan><tspan x="0" y="20.5">value = 52.0</tspan></text><use href="#f" class="s"/></g>
<g id="n7_9" class="c54" transform="translate(1254.5)"><use href="#a"/><text y="-14">temp_lag1 &lt;= 47.0<tspan x="0" y="-2.5">mse = 3.5</tspan><tspan x="0" y="9">samples = 20</tspan><tspan x="0" y="20.5">value = 54.2</tspan></text><use href="#a" class="s"/></g>
<g id="n7_10" class="c46" transform="translate(1292)"><use href="#l"/><text y="-7">mse = 0.0<tspan x="0" y="4.5">samples = 2</tspan><tspan x="0" y="16.5">value = 47.0</tspan></text><use href="#l" class="s"/></g>
<g id="n7_11" class="c48" transform="translate(1361)"><use href="#l"/><text y="-7">mse = 0.0<tspan x="0" y="4.5">samples = 1</tspan><tspan x="0" y="16.5">value = 49.0</tspan></text><use href="#l" class="s"/></g>
<g id="n7_12" class="c54" transform="translate(1397)"><use href="#a"/><text y="-14">temp_lag2 &lt;= 46.0<tspan x="0" y="-2.5">mse = 1.0</tspan><tspan x="0" y="9">samples = 2</tspan><tspan x="0" y="20.5">value = 53.0</tspan></text><use href="#a" class="s"/></g>
<g id="n7_13" class="c58" transform="translate(1492)"><use href="#a"/><text y="-14">temp_lag1 &lt;= 56.0<tspan x="0" y="-2.5">mse = 3.959</tspan><tspan x="0" y="9">samples = 5</tspan><tspan x="0" y="20.5">value = 58.429</tspan></text><use href="#a" class="s"/></g>
<g id="n7_14" class="c56" transform="translate(1754)"><use href="#g"/><text y="-14">day &lt;= 25.0<tspan x="0" y="-2.5">mse = 3.648</tspan><tspan x="0" y="9">samples = 14</tspan><tspan x="0" y="20.5">value = 56.05</tspan></text><use href="#g" class="s"/></g>
<g id="n7_15" class="c50" transform="translate(1866)"><use href="#l"/><text y="-7">mse = 0.0<tspan x="0" y="4.5">samples = 1</tspan><tspan x="0" y="16.5">value = 50.0</tspan></text><use href="#l" class="s"/></g>
<g id="n7_16" class="c54" transform="translate(1904)"><use href="#a"/><text y="-14">temp_lag1 &lt;= 55.0<tspan x="0" y="-2.5">mse = 1.5</tspan><tspan x="0" y="9">samples = 2</tspan><tspan x="0" y="20.5">value = 54.5</tspan></text><use href="#a" class="s"/></g>
<g id="n7_17" class="c60" transform="translate(1942)"><use href="#l"/><text y="-7">mse = 0.0<tspan x="0" y="4.5">samples = 1</tspan><tspan x="0" y="16.5">value = 60.0</tspan></text><use href="#l" class="s"/></g>
<g id="n7_18" class="c58" transform="translate(1981)"><use href="#l"/><text y="-7">mse = 0.0<tspan x="0" y="4.5">samples = 1</tspan><tspan x="0" y="16.5">value = 59.0</tspan></text><use href="#l" class="s"/></g>
<g id="n7_19" class="c64" transform="translate(2017)"><use href="#a"/><text y="-14">temp_lag1 &lt;= 63.5<tspan x="0" y="-2.5">mse = 8.7</tspan><tspan x="0" y="9">samples = 3</tspan><tspan x="0" y="20.5">value = 65.0</tspan></text><use href="#a" class="s"/></g>
<g id="n7_20" class="c58" transform="translate(2054)"><use href="#l"/><text y="-7">mse = 0.0<tspan x="0" y="4.5">samples = 1</tspan><tspan x="0" y="16.5">value = 58.0</tspan></text><use href="#l" class="s"/></g>
<g id="n7_21" class="c66" transform="translate(2168)"><use href="#l"/><text y="-7">mse = 0.0<tspan x="0" y="4.5">samples = 1</tspan><tspan x="0" y="16.5">value = 65.0</tspan></text><use href="#l" class="s"/></g>
<g id="n7_22" class="c66" transform="translate(2205)"><use href="#l"/><text y="-7">mse = 0.0<tspan x="0" y="4.5">samples = 1</tspan><tspan x="0" y="16.5">value = 67.0</tspan></text><use href="#l" class="s"/></g>
<g id="n7_23" class="c56" transform="translate(2241)"><use href="#l"/><text y="-7">mse = 0.0<tspan x="0" y="4.5">samples = 1</tspan><tspan x="0" y="16.5">value = 57.0</tspan></text><use href="#l" class="s"/></g>
<g id="n7_24" class="c64" transform="translate(2278.5)"><use href="#f"/><text y="-14">index &lt;= 108.5<tspan x="0" y="-2.5">mse = 5.688</tspan><tspan x="0" y="9">samples = 7</tspan><tspan x="0" y="20.5">value = 63.25</tspan></text><use href="#f" class="s"/></g>
<g id="n7_25" class="c62" transform="translate(2439)"><use href="#a"/><text y="-14">historical &lt;= 56.55<tspan x="0" y="-2.5">mse = 10.16</tspan><tspan x="0" y="9">samples = 7</tspan><tspan x="0" y="20.5">value = 62.2</tspan></text><use href="#a" class="s"/></g>
<g id="n7_26" class="c58" transform="translate(2615)"><use href="#g"/><text y="-14">day &lt;= 18.5<tspan x="0" y="-2.5">mse = 3.889</tspan><tspan x="0" y="9">samples = 4</tspan><tspan x="0" y="20.5">value = 57.6</tspan></text><use href="#g" class="s"/></g>
<g id="n7_27" class="c70" transform="translate(2711)"><use href="#a"/><text y="-14">temp_lag1 &lt;= 63.5<tspan x="0" y="-2.5">mse = 10.889</tspan><tspan x="0" y="9">samples = 2</tspan><tspan x="0" y="20.5">value = 70.333</tspan></text><use href="#a" class="s"/></g>
<g id="n7_28" class="c64" transform="translate(2804)"><use href="#e"/><text y="-14">week_Fri &lt;= 0.5<tspan x="0" y="-2.5">mse = 3.716</tspan><tspan x="0" y="9">samples = 9</tspan><tspan x="0" y="20.5">value = 63.769</tspan></text><use href="#e" class="s"/></g>
<g id="n7_29" class="c66" transform="translate(2898)"><use href="#g"/><text y="-14">month &lt;= 7.5<tspan x="0" y="-2.5">mse = 1.0</tspan><tspan x="0" y="9">samples = 3</tspan><tspan x="0" y="20.5">value = 67.0</tspan></text><use href="#g" class="s"/></g>
<g id="n7_30" class="c64" transform="translate(2936)"><use href="#l"/><text y="-7">mse = 0.0<tspan x="0" y="4.5">samples = 1</tspan><tspan x="0" y="16.5">value = 64.0</tspan></text><use href="#l" class="s"/></g>
<g id="n7_31" class="c66" transform="translate(2974)"><use href="#g"/><text y="-14">month &lt;= 8.5<tspan x="0" y="-2.5">mse = 0.25</tspan><tspan x="0" y="9">samples = 3</tspan><tspan x="0" y="20.5">value = 65.5</tspan></text><use href="#g" class="s"/></g>
<g id="n7_32" class="c68" transform="translate(3010)"><use href="#l"/><text y="-7">mse = 0.0<tspan x="0" y="4.5">samples = 1</tspan><tspan x="0" y="16.5">value = 68.0</tspan></text><use href="#l" class="s"/></g>
<g id="n7_33" class="c70" transform="translate(3048)"><use href="#l"/><text y="-7">mse = 0.0<tspan x="0" y="4.5">samples = 1</tspan><tspan x="0" y="16.5">value = 70.0</tspan></text><use href="#l" class="s"/></g>
<g id="n7_34" class="c72" transform="translate(3085)"><use href="#l"/><text y="-7">mse = 0.0<tspan x="0" y="4.5">samples = 1</tspan><tspan x="0" y="16.5">value = 72.0</tspan></text><use href="#l" class="s"/></g>
<g id="n7_35" class="c72" transform="translate(3241)"><use href="#a"/><text y="-14">temp_lag1 &lt;= 74.5<tspan x="0" y="-2.5">mse = 17.207</tspan><tspan x="0" y="9">samples = 33</tspan><tspan x="0" y="20.5">value = 71.792</tspan></text><use href="#a" class="s"/></g>
<g id="n7_36" class="c74" transform="translate(3481)"><use href="#a"/><text y="-14">temp_lag1 &lt;= 78.5<tspan x="0" y="-2.5">mse = 5.0</tspan><tspan x="0" y="9">samples = 4</tspan><tspan x="0" y="20.5">value = 73.0</tspan></text><use href="#a" class="s"/></g>
<g id="n7_37" class="c60" transform="translate(3517)"><use href="#l"/><text y="-7">mse = 0.0<tspan x="0" y="4.5">samples = 1</tspan><tspan x="0" y="16.5">value = 60.0</tspan></text><use href="#l" class="s"/></g>
<g id="n7_38" class="c64" transform="translate(3552)"><use href="#l"/><text y="-7">mse = 0.0<tspan x="0" y="4.5">samples = 1</tspan><tspan x="0" y="16.5">value = 64.0</tspan></text><use href="#l" class="s"/></g>
<g id="n7_39" class="c78" transform="translate(3592)"><use href="#f"/><text y="-14">index &lt;= 73.5<tspan x="0" y="-2.5">mse = 0.25</tspan><tspan x="0" y="9">samples = 2</tspan><tspan x="0" y="20.5">value = 78.5</tspan></text><use href="#f" class="s"/></g>
<g id="n7_40" class="c78" transform="translate(3628)"><use href="#l"/><text y="-7">mse = 0.0<tspan x="0" y="4.5">samples = 1</tspan><tspan x="0" y="16.5">value = 78.0</tspan></text><use href="#l" class="s"/></g>
<g id="n7_41" class="c72" transform="translate(3666)"><use href="#l"/><text y="-7">mse = 0.0<tspan x="0" y="4.5">samples = 1</tspan><tspan x="0" y="16.5">value = 72.0</tspan></text><use href="#l" class="s"/></g>
<g id="n7_42" class="c74" transform="translate(3703)"><use href="#l"/><text y="-7">mse = 0.0<tspan x="0" y="4.5">samples = 1</tspan><tspan x="0" y="16.5">value = 74.0</tspan></text><use href="#l" class="s"/></g>
<g id="n7_43" class="c76" transform="translate(3743)"><use href="#f"/><text y="-14">index &lt;= 128.0<tspan x="0" y="-2.5">mse = 9.0</tspan><tspan x="0" y="9">samples = 3</tspan><tspan x="0" y="20.5">value = 76.5</tspan></text><use href="#f" class="s"/></g>
<g id="n7_44" class="c88" transform="translate(3819)"><use href="#a"/><text y="-14">historical &lt;= 68.1<tspan x="0" y="-2.5">mse = 9.556</tspan><tspan x="0" y="9">samples = 3</tspan><tspan x="0" y="20.5">value = 87.667</tspan></text><use href="#a" class="s"/></g>
<g id="n7_45" class="c76" transform="translate(3958)"><use href="#f"/><text y="-14">index &lt;= 176.0<tspan x="0" y="-2.5">mse = 17.34</tspan><tspan x="0" y="9">samples = 11</tspan><tspan x="0" y="20.5">value = 75.688</tspan></text><use href="#f" class="s"/></g>
<g id="n7_46" class="c66" transform="translate(4099)"><use href="#b"/><text y="-14">week_Wed &lt;= 0.5<tspan x="0" y="-2.5">mse = 2.667</tspan><tspan x="0" y="9">samples = 2</tspan><tspan x="0" y="20.5">value = 65.333</tspan></text><use href="#b" class="s"/></g>
<g id="n7_47" class="c82" transform="translate(4192)"><use href="#a"/><text y="-14">temp_lag2 &lt;= 84.5<tspan x="0" y="-2.5">mse = 3.822</tspan><tspan x="0" y="9">samples = 7</tspan><tspan x="0" y="20.5">value = 81.154</tspan></text><use href="#a" class="s"/></g>
<g id="n7_48" class="c86" transform="translate(4289)"><use href="#g"/><text y="-14">day &lt;= 28.5<tspan x="0" y="-2.5">mse = 1.688</tspan><tspan x="0" y="9">samples = 2</tspan><tspan x="0" y="20.5">value = 85.75</tspan></text><use href="#g" class="s"/></g>
</g>
<g id="r8" transform="translate(0 2536.5)">
<g id="n8_1" class="c36" transform="translate(620)"><use href="#l"/><text y="-7">mse = 0.0<tspan x="0" y="4.5">samples = 1</tspan><tspan x="0" y="16.5">value = 37.0</tspan></text><use href="#l" class="s"/></g>
<g id="n8_2" class="c36" transform="translate(657)"><use href="#l"/><text y="-7">mse = 0.0<tspan x="0" y="4.5">samples = 1</tspan><tspan x="0" y="16.5">value = 36.0</tspan></text><use href="#l" class="s"/></g>
<g id="n8_3" class="c40" transform="translate(770)"><use href="#b"/><text y="-14">week_Wed &lt;= 0.5<tspan x="0" y="-2.5">mse = 0.222</tspan><tspan x="0" y="9">samples = 6</tspan><tspan x="0" y="20.5">value = 40.6</tspan></text><use href="#b" class="s"/></g>
<g id="n8_4" class="c40" transform="translate(806)"><use href="#l"/><text y="-7">mse = 0.0<tspan x="0" y="4.5">samples = 2</tspan><tspan x="0" y="16.5">value = 40.0</tspan></text><use href="#l" class="s"/></g>
<g id="n8_5" class="c54" transform="translate(1030)"><use href="#d"/><text y="-14">week_Sun &lt;= 0.5<tspan x="0" y="-2.5">mse = 0.25</tspan><tspan x="0" y="9">samples = 2</tspan><tspan x="0" y="20.5">value = 52.5</tspan></text><use href="#d" class="s"/></g>
<g id="n8_6" class="c50" transform="translate(1070)"><use href="#l"/><text y="-7">mse = 0.0<tspan x="0" y="4.5">samples = 1</tspan><tspan x="0" y="16.5">value = 51.0</tspan></text><use href="#l" class="s"/></g>
<g id="n8_7" class="c54" transform="translate(1168)"><use href="#d"/><text y="-14">week_Sat &lt;= 0.5<tspan x="0" y="-2.5">mse = 4.856</tspan><tspan x="0" y="9">samples = 17</tspan><tspan x="0" y="20.5">value = 54.621</tspan></text><use href="#d" class="s"/></g>
<g id="n8_8" class="c54" transform="translate(1341.5)"><use href="#b"/><text y="-14">week_Mon &lt;= 0.5<tspan x="0" y="-2.5">mse = 0.667</tspan><tspan x="0" y="9">samples = 3</tspan><tspan x="0" y="20.5">value = 52.333</tspan></text><use href="#b" class="s"/></g>
<g id="n8_9" class="c54" transform="translate(1379)"><use href="#l"/><text y="-7">mse = 0.0<tspan x="0" y="4.5">samples = 1</tspan><tspan x="0" y="16.5">value = 53.0</tspan></text><use href="#l" class="s"/></g>
<g id="n8_10" class="c54" transform="translate(1417)"><use href="#l"/><text y="-7">mse = 0.0<tspan x="0" y="4.5">samples = 1</tspan><tspan x="0" y="16.5">value = 54.0</tspan></text><use href="#l" class="s"/></g>
<g id="n8_11" class="c56" transform="translate(1456)"><use href="#f"/><text y="-14">index &lt;= 71.0<tspan x="0" y="-2.5">mse = 0.25</tspan><tspan x="0" y="9">samples = 2</tspan><tspan x="0" y="20.5">value = 57.5</tspan></text><use href="#f" class="s"/></g>
<g id="n8_12" class="c60" transform="translate(1525)"><use href="#f"/><text y="-14">index &lt;= 63.0<tspan x="0" y="-2.5">mse = 4.0</tspan><tspan x="0" y="9">samples = 2</tspan><tspan x="0" y="20.5">value = 61.0</tspan></text><use href="#f" class="s"/></g>
<g id="n8_13" class="c56" transform="translate(1660)"><use href="#g"/><text y="-14">day &lt;= 10.5<tspan x="0" y="-2.5">mse = 2.595</tspan><tspan x="0" y="9">samples = 11</tspan><tspan x="0" y="20.5">value = 55.588</tspan></text><use href="#g" class="s"/></g>
<g id="n8_14" class="c58" transform="translate(1848)"><use href="#g"/><text y="-14">day &lt;= 28.5<tspan x="0" y="-2.5">mse = 0.188</tspan><tspan x="0" y="9">samples = 3</tspan><tspan x="0" y="20.5">value = 57.75</tspan></text><use href="#g" class="s"/></g>
<g id="n8_15" class="c58" transform="translate(1885)"><use href="#l"/><text y="-7">mse = 0.0<tspan x="0" y="4.5">samples = 1</tspan><tspan x="0" y="16.5">value = 58.0</tspan></text><use href="#l" class="s"/></g>
<g id="n8_16" class="c54" transform="translate(1922)"><use href="#l"/><text y="-7">mse = 0.0<tspan x="0" y="4.5">samples = 1</tspan><tspan x="0" y="16.5">value = 53.0</tspan></text><use href="#l" class="s"/></g>
<g id="n8_17" class="c66" transform="translate(1997)"><use href="#l"/><text y="-7">mse = 0.0<tspan x="0" y="4.5">samples = 1</tspan><tspan x="0" y="16.5">value = 67.0</tspan></text><use href="#l" class="s"/></g>
<g id="n8_18" class="c64" transform="translate(2035)"><use href="#a"/><text y="-14">temp_lag1 &lt;= 64.5<tspan x="0" y="-2.5">mse = 0.222</tspan><tspan x="0" y="9">samples = 3</tspan><tspan x="0" y="20.5">value = 63.333</tspan></text><use href="#a" class="s"/></g>
<g id="n8_19" class="c58" transform="translate(2261)"><use href="#l"/><text y="-7">mse = 0.0<tspan x="0" y="4.5">samples = 1</tspan><tspan x="0" y="16.5">value = 59.0</tspan></text><use href="#l" class="s"/></g>
<g id="n8_20" class="c62" transform="translate(2298)"><use href="#a"/><text y="-14">historical &lt;= 60.9<tspan x="0" y="-2.5">mse = 2.816</tspan><tspan x="0" y="9">samples = 6</tspan><tspan x="0" y="20.5">value = 62.571</tspan></text><use href="#a" class="s"/></g>
<g id="n8_21" class="c66" transform="translate(2392)"><use href="#a"/><text y="-14">historical &lt;= 56.4<tspan x="0" y="-2.5">mse = 4.0</tspan><tspan x="0" y="9">samples = 2</tspan><tspan x="0" y="20.5">value = 67.0</tspan></text><use href="#a" class="s"/></g>
<g id="n8_22" class="c62" transform="translate(2483)"><use href="#g"/><text y="-14">day &lt;= 17.5<tspan x="0" y="-2.5">mse = 4.5</tspan><tspan x="0" y="9">samples = 5</tspan><tspan x="0" y="20.5">value = 61.5</tspan></text><use href="#g" class="s"/></g>
<g id="n8_23" class="c60" transform="translate(2580)"><use href="#a"/><text y="-14">temp_lag2 &lt;= 59.5<tspan x="0" y="-2.5">mse = 0.25</tspan><tspan x="0" y="9">samples = 2</tspan><tspan x="0" y="20.5">value = 59.5</tspan></text><use href="#a" class="s"/></g>
<g id="n8_24" class="c56" transform="translate(2652)"><use href="#d"/><text y="-14">week_Sun &lt;= 0.5<tspan x="0" y="-2.5">mse = 0.25</tspan><tspan x="0" y="9">samples = 2</tspan><tspan x="0" y="20.5">value = 56.5</tspan></text><use href="#d" class="s"/></g>
<g id="n8_25" class="c70" transform="translate(2691)"><use href="#l"/><text y="-7">mse = 0.0<tspan x="0" y="4.5">samples = 1</tspan><tspan x="0" y="16.5">value = 70.0</tspan></text><use href="#l" class="s"/></g>
<g id="n8_26" class="c74" transform="translate(2729)"><use href="#l"/><text y="-7">mse = 0.0<tspan x="0" y="4.5">samples = 1</tspan><tspan x="0" y="16.5">value = 73.0</tspan></text><use href="#l" class="s"/></g>
<g id="n8_27" class="c66" transform="translate(2768)"><use href="#g"/><text y="-14">day &lt;= 25.5<tspan x="0" y="-2.5">mse = 0.222</tspan><tspan x="0" y="9">samples = 3</tspan><tspan x="0" y="20.5">value = 65.667</tspan></text><use href="#g" class="s"/></g>
<g id="n8_28" class="c64" transform="translate(2842)"><use href="#a"/><text y="-14">historical &lt;= 59.4<tspan x="0" y="-2.5">mse = 2.0</tspan><tspan x="0" y="9">samples = 6</tspan><tspan x="0" y="20.5">value = 64.5</tspan></text><use href="#a" class="s"/></g>
<g id="n8_29" class="c62" transform="translate(2881)"><use href="#l"/><text y="-7">mse = 0.0<tspan x="0" y="4.5">samples = 1</tspan><tspan x="0" y="16.5">value = 62.0</tspan></text><use href="#l" class="s"/></g>
<g id="n8_30" class="c64" transform="translate(2917)"><use href="#l"/><text y="-7">mse = 0.0<tspan x="0" y="4.5">samples = 1</tspan><tspan x="0" y="16.5">value = 64.0</tspan></text><use href="#l" class="s"/></g>
<g id="n8_31" class="c64" transform="translate(2954)"><use href="#l"/><text y="-7">mse = 0.0<tspan x="0" y="4.5">samples = 1</tspan><tspan x="0" y="16.5">value = 64.0</tspan></text><use href="#l" class="s"/></g>
<g id="n8_32" class="c64" transform="translate(2991)"><use href="#l"/><text y="-7">mse = 0.0<tspan x="0" y="4.5">samples = 2</tspan><tspan x="0" y="16.5">value = 65.0</tspan></text><use href="#l" class="s"/></g>
<g id="n8_33" class="c72" transform="translate(3076)"><use href="#a"/><text y="-14">historical &lt;= 70.3<tspan x="0" y="-2.5">mse = 17.688</tspan><tspan x="0" y="9">samples = 25</tspan><tspan x="0" y="20.5">value = 72.583</tspan></text><use href="#a" class="s"/></g>
<g id="n8_34" class="c68" transform="translate(3405)"><use href="#f"/><text y="-14">index &lt;= 82.5<tspan x="0" y="-2.5">mse = 8.0</tspan><tspan x="0" y="9">samples = 6</tspan><tspan x="0" y="20.5">value = 68.0</tspan></text><use href="#f" class="s"/></g>
<g id="n8_35" class="c66" transform="translate(3462)"><use href="#l"/><text y="-7">mse = 0.0<tspan x="0" y="4.5">samples = 1</tspan><tspan x="0" y="16.5">value = 65.0</tspan></text><use href="#l" class="s"/></g>
<g id="n8_36" class="c78" transform="translate(3498)"><use href="#g"/><text y="-14">day &lt;= 18.5<tspan x="0" y="-2.5">mse = 7.36</tspan><tspan x="0" y="9">samples = 3</tspan><tspan x="0" y="20.5">value = 78.0</tspan></text><use href="#g" class="s"/></g>
<g id="n8_37" class="c74" transform="translate(3573)"><use href="#l"/><text y="-7">mse = 0.0<tspan x="0" y="4.5">samples = 1</tspan><tspan x="0" y="16.5">value = 75.0</tspan></text><use href="#l" class="s"/></g>
<g id="n8_38" class="c76" transform="translate(3611)"><use href="#l"/><text y="-7">mse = 0.0<tspan x="0" y="4.5">samples = 1</tspan><tspan x="0" y="16.5">value = 76.0</tspan></text><use href="#l" class="s"/></g>
<g id="n8_39" class="c74" transform="translate(3723.5)"><use href="#b"/><text y="-14">week_Tues &lt;= 0.5<tspan x="0" y="-2.5">mse = 2.25</tspan><tspan x="0" y="9">samples = 3</tspan><tspan x="0" y="20.5">value = 74.5</tspan></text><use href="#b" class="s"/></g>
<g id="n8_40" class="c78" transform="translate(3761)"><use href="#l"/><text y="-7">mse = 0.0<tspan x="0" y="4.5">samples = 1</tspan><tspan x="0" y="16.5">value = 78.0</tspan></text><use href="#l" class="s"/></g>
<g id="n8_41" class="c86" transform="translate(3800)"><use href="#l"/><text y="-7">mse = 0.0<tspan x="0" y="4.5">samples = 1</tspan><tspan x="0" y="16.5">value = 86.0</tspan></text><use href="#l" class="s"/></g>
<g id="n8_42" class="c88" transform="translate(3835)"><use href="#g"/><text y="-14">day &lt;= 27.5<tspan x="0" y="-2.5">mse = 0.222</tspan><tspan x="0" y="9">samples = 2</tspan><tspan x="0" y="20.5">value = 88.667</tspan></text><use href="#g" class="s"/></g>
<g id="n8_43" class="c80" transform="translate(3912)"><use href="#a"/><text y="-14">week_Thurs &lt;= 0.5<tspan x="0" y="-2.5">mse = 19.688</tspan><tspan x="0" y="9">samples = 5</tspan><tspan x="0" y="20.5">value = 80.25</tspan></text><use href="#a" class="s"/></g>
<g id="n8_44" class="c72" transform="translate(4004)"><use href="#a"/><text y="-14">temp_lag1 &lt;= 78.5<tspan x="0" y="-2.5">mse = 7.0</tspan><tspan x="0" y="9">samples = 6</tspan><tspan x="0" y="20.5">value = 72.5</tspan></text><use href="#a" class="s"/></g>
<g id="n8_45" class="c64" transform="translate(4079)"><use href="#a"/><text y="-14">historical &lt;= 66.9<tspan x="0" y="-2.5">mse = 0.667</tspan><tspan x="0" y="9">samples = 1</tspan><tspan x="0" y="20.5">value = 65.667</tspan></text><use href="#a" class="s"/></g>
<g id="n8_46" class="c64" transform="translate(4117)"><use href="#l"/><text y="-7">mse = 0.0<tspan x="0" y="4.5">samples = 1</tspan><tspan x="0" y="16.5">value = 64.0</tspan></text><use href="#l" class="s"/></g>
<g id="n8_47" class="c80" transform="translate(4157)"><use href="#a"/><text y="-14">historical &lt;= 79.5<tspan x="0" y="-2.5">mse = 0.967</tspan><tspan x="0" y="9">samples = 5</tspan><tspan x="0" y="20.5">value = 79.5</tspan></text><use href="#a" class="s"/></g>
<g id="n8_48" class="c82" transform="translate(4229)"><use href="#f"/><text y="-14">index &lt;= 46.5<tspan x="0" y="-2.5">mse = 1.0</tspan><tspan x="0" y="9">samples = 2</tspan><tspan x="0" y="20.5">value = 83.0</tspan></text><use href="#f" class="s"/></g>
<g id="n8_49" class="c84" transform="translate(4267.5)"><use href="#l"/><text y="-7">mse = 0.0<tspan x="0" y="4.5">samples = 1</tspan><tspan x="0" y="16.5">value = 85.0</tspan></text><use href="#l" class="s"/></g>
<g id="n8_50" class="c88" transform="translate(4305)"><use href="#l"/><text y="-7">mse = 0.0<tspan x="0" y="4.5">samples = 1</tspan><tspan x="0" y="16.5">value = 88.0</tspan></text><use href="#l" class="s"/></g>
</g>
<g id="r9" transform="translate(0 2767.5)">
<g id="n9_1" class="c42" transform="translate(751)"><use href="#f"/><text y="-14">index &lt;= 132.5<tspan x="0" y="-2.5">mse = 0.5</tspan><tspan x="0" y="9">samples = 5</tspan><tspan x="0" y="20.5">value = 41.0</tspan></text><use href="#f" class="s"/></g>
<g id="n9_2" class="c38" transform="translate(788)"><use href="#l"/><text y="-7">mse = 0.0<tspan x="0" y="4.5">samples = 1</tspan><tspan x="0" y="16.5">value = 39.0</tspan></text><use href="#l" class="s"/></g>
<g id="n9_3" class="c52" transform="translate(1013)"><use href="#l"/><text y="-7">mse = 0.0<tspan x="0" y="4.5">samples = 1</tspan><tspan x="0" y="16.5">value = 52.0</tspan></text><use href="#l" class="s"/></g>
<g id="n9_4" class="c54" transform="translate(1050)"><use href="#l"/><text y="-7">mse = 0.0<tspan x="0" y="4.5">samples = 1</tspan><tspan x="0" y="16.5">value = 53.0</tspan></text><use href="#l" class="s"/></g>
<g id="n9_5" class="c54" transform="translate(1088.5)"><use href="#a"/><text y="-14">temp_lag1 &lt;= 53.5<tspan x="0" y="-2.5">mse = 3.499</tspan><tspan x="0" y="9">samples = 14</tspan><tspan x="0" y="20.5">value = 54.962</tspan></text><use href="#a" class="s"/></g>
<g id="n9_6" class="c54" transform="translate(1247)"><use href="#a"/><text y="-14">temp_lag1 &lt;= 51.5<tspan x="0" y="-2.5">mse = 6.0</tspan><tspan x="0" y="9">samples = 3</tspan><tspan x="0" y="20.5">value = 53.0</tspan></text><use href="#a" class="s"/></g>
<g id="n9_7" class="c52" transform="translate(1323.5)"><use href="#a"/><text y="-14">temp_lag1 &lt;= 46.5<tspan x="0" y="-2.5">mse = 0.25</tspan><tspan x="0" y="9">samples = 2</tspan><tspan x="0" y="20.5">value = 51.5</tspan></text><use href="#a" class="s"/></g>
<g id="n9_8" class="c54" transform="translate(1360)"><use href="#l"/><text y="-7">mse = 0.0<tspan x="0" y="4.5">samples = 1</tspan><tspan x="0" y="16.5">value = 54.0</tspan></text><use href="#l" class="s"/></g>
<g id="n9_9" class="c56" transform="translate(1435)"><use href="#l"/><text y="-7">mse = 0.0<tspan x="0" y="4.5">samples = 1</tspan><tspan x="0" y="16.5">value = 57.0</tspan></text><use href="#l" class="s"/></g>
<g id="n9_10" class="c58" transform="translate(1472)"><use href="#l"/><text y="-7">mse = 0.0<tspan x="0" y="4.5">samples = 1</tspan><tspan x="0" y="16.5">value = 58.0</tspan></text><use href="#l" class="s"/></g>
<g id="n9_11" class="c60" transform="translate(1510)"><use href="#l"/><text y="-7">mse = 0.0<tspan x="0" y="4.5">samples = 1</tspan><tspan x="0" y="16.5">value = 60.0</tspan></text><use href="#l" class="s"/></g>
<g id="n9_12" class="c62" transform="translate(1547)"><use href="#l"/><text y="-7">mse = 0.0<tspan x="0" y="4.5">samples = 1</tspan><tspan x="0" y="16.5">value = 62.0</tspan></text><use href="#l" class="s"/></g>
<g id="n9_13" class="c56" transform="translate(1586)"><use href="#a"/><text y="-14">temp_lag2 &lt;= 54.5<tspan x="0" y="-2.5">mse = 1.358</tspan><tspan x="0" y="9">samples = 5</tspan><tspan x="0" y="20.5">value = 56.556</tspan></text><use href="#a" class="s"/></g>
<g id="n9_14" class="c54" transform="translate(1735)"><use href="#a"/><text y="-14">temp_lag1 &lt;= 55.5<tspan x="0" y="-2.5">mse = 1.75</tspan><tspan x="0" y="9">samples = 6</tspan><tspan x="0" y="20.5">value = 54.5</tspan></text><use href="#a" class="s"/></g>
<g id="n9_15" class="c58" transform="translate(1829)"><use href="#g"/><text y="-14">month &lt;= 11.5<tspan x="0" y="-2.5">mse = 0.25</tspan><tspan x="0" y="9">samples = 3</tspan><tspan x="0" y="20.5">value = 58.5</tspan></text><use href="#g" class="s"/></g>
<g id="n9_16" class="c56" transform="translate(1865)"><use href="#l"/><text y="-7">mse = 0.0<tspan x="0" y="4.5">samples = 1</tspan><tspan x="0" y="16.5">value = 57.0</tspan></text><use href="#l" class="s"/></g>
<g id="n9_17" class="c62" transform="translate(2017)"><use href="#l"/><text y="-7">mse = 0.0<tspan x="0" y="4.5">samples = 1</tspan><tspan x="0" y="16.5">value = 63.0</tspan></text><use href="#l" class="s"/></g>
<g id="n9_18" class="c64" transform="translate(2053)"><use href="#l"/><text y="-7">mse = 0.0<tspan x="0" y="4.5">samples = 1</tspan><tspan x="0" y="16.5">value = 64.0</tspan></text><use href="#l" class="s"/></g>
<g id="n9_19" class="c62" transform="translate(2260)"><use href="#d"/><text y="-14">week_Sat &lt;= 0.5<tspan x="0" y="-2.5">mse = 0.25</tspan><tspan x="0" y="9">samples = 4</tspan><tspan x="0" y="20.5">value = 62.5</tspan></text><use href="#d" class="s"/></g>
<g id="n9_20" class="c66" transform="translate(2335)"><use href="#b"/><text y="-14">week_Wed &lt;= 0.5<tspan x="0" y="-2.5">mse = 0.25</tspan><tspan x="0" y="9">samples = 2</tspan><tspan x="0" y="20.5">value = 65.5</tspan></text><use href="#b" class="s"/></g>
<g id="n9_21" class="c68" transform="translate(2374)"><use href="#l"/><text y="-7">mse = 0.0<tspan x="0" y="4.5">samples = 1</tspan><tspan x="0" y="16.5">value = 68.0</tspan></text><use href="#l" class="s"/></g>
<g id="n9_22" class="c66" transform="translate(2411)"><use href="#l"/><text y="-7">mse = 0.0<tspan x="0" y="4.5">samples = 1</tspan><tspan x="0" y="16.5">value = 66.0</tspan></text><use href="#l" class="s"/></g>
<g id="n9_23" class="c58" transform="translate(2447)"><use href="#a"/><text y="-14">temp_lag2 &lt;= 58.5<tspan x="0" y="-2.5">mse = 2.0</tspan><tspan x="0" y="9">samples = 3</tspan><tspan x="0" y="20.5">value = 59.0</tspan></text><use href="#a" class="s"/></g>
<g id="n9_24" class="c62" transform="translate(2523)"><use href="#f"/><text y="-14">index &lt;= 207.0<tspan x="0" y="-2.5">mse = 0.25</tspan><tspan x="0" y="9">samples = 3</tspan><tspan x="0" y="20.5">value = 61.5</tspan></text><use href="#f" class="s"/></g>
<g id="n9_25" class="c58" transform="translate(2560)"><use href="#l"/><text y="-7">mse = 0.0<tspan x="0" y="4.5">samples = 1</tspan><tspan x="0" y="16.5">value = 58.0</tspan></text><use href="#l" class="s"/></g>
<g id="n9_26" class="c60" transform="translate(2598)"><use href="#l"/><text y="-7">mse = 0.0<tspan x="0" y="4.5">samples = 1</tspan><tspan x="0" y="16.5">value = 60.0</tspan></text><use href="#l" class="s"/></g>
<g id="n9_27" class="c56" transform="translate(2635)"><use href="#l"/><text y="-7">mse = 0.0<tspan x="0" y="4.5">samples = 1</tspan><tspan x="0" y="16.5">value = 56.0</tspan></text><use href="#l" class="s"/></g>
<g id="n9_28" class="c56" transform="translate(2672)"><use href="#l"/><text y="-7">mse = 0.0<tspan x="0" y="4.5">samples = 1</tspan><tspan x="0" y="16.5">value = 57.0</tspan></text><use href="#l" class="s"/></g>
<g id="n9_29" class="c66" transform="translate(2747)"><use href="#d"/><text y="-14">week_Sun &lt;= 0.5<tspan x="0" y="-2.5">mse = 0.222</tspan><tspan x="0" y="9">samples = 3</tspan><tspan x="0" y="20.5">value = 65.667</tspan></text><use href="#d" class="s"/></g>
<g id="n9_30" class="c66" transform="translate(2784)"><use href="#l"/><text y="-7">mse = 0.0<tspan x="0" y="4.5">samples = 1</tspan><tspan x="0" y="16.5">value = 67.0</tspan></text><use href="#l" class="s"/></g>
<g id="n9_31" class="c62" transform="translate(2823)"><use href="#l"/><text y="-7">mse = 0.0<tspan x="0" y="4.5">samples = 1</tspan><tspan x="0" y="16.5">value = 62.0</tspan></text><use href="#l" class="s"/></g>
<g id="n9_32" class="c66" transform="translate(2861)"><use href="#f"/><text y="-14">day &lt;= 25.0<tspan x="0" y="-2.5">mse = 0.222</tspan><tspan x="0" y="9">samples = 2</tspan><tspan x="0" y="20.5">value = 66.333</tspan></text><use href="#f" class="s"/></g>
<g id="n9_33" class="c70" transform="translate(2964.5)"><use href="#f"/><text y="-14">index &lt;= 156.0<tspan x="0" y="-2.5">mse = 24.722</tspan><tspan x="0" y="9">samples = 9</tspan><tspan x="0" y="20.5">value = 70.667</tspan></text><use href="#f" class="s"/></g>
<g id="n9_34" class="c74" transform="translate(3189)"><use href="#b"/><text y="-14">historical &lt;= 73.3<tspan x="0" y="-2.5">mse = 11.415</tspan><tspan x="0" y="9">samples = 16</tspan><tspan x="0" y="20.5">value = 73.542</tspan></text><use href="#b" class="s"/></g>
<g id="n9_35" class="c70" transform="translate(3386.5)"><use href="#b"/><text y="-14">week_Tues &lt;= 0.5<tspan x="0" y="-2.5">mse = 1.25</tspan><tspan x="0" y="9">samples = 5</tspan><tspan x="0" y="20.5">value = 69.5</tspan></text><use href="#b" class="s"/></g>
<g id="n9_36" class="c66" transform="translate(3423)"><use href="#l"/><text y="-7">mse = 0.0<tspan x="0" y="4.5">samples = 1</tspan><tspan x="0" y="16.5">value = 66.0</tspan></text><use href="#l" class="s"/></g>
<g id="n9_37" class="c76" transform="translate(3479)"><use href="#a"/><text y="-14">temp_lag1 &lt;= 79.5<tspan x="0" y="-2.5">mse = 2.0</tspan><tspan x="0" y="9">samples = 3</tspan><tspan x="0" y="20.5">value = 77.0</tspan></text><use href="#a" class="s"/></g>
<g id="n9_38" class="c74" transform="translate(3517)"><use href="#l"/><text y="-7">mse = 0.0<tspan x="0" y="4.5">samples = 1</tspan><tspan x="0" y="16.5">value = 75.0</tspan></text><use href="#l" class="s"/></g>
<g id="n9_39" class="c74" transform="translate(3705)"><use href="#l"/><text y="-7">mse = 0.0<tspan x="0" y="4.5">samples = 1</tspan><tspan x="0" y="16.5">value = 73.0</tspan></text><use href="#l" class="s"/></g>
<g id="n9_40" class="c74" transform="translate(3742)"><use href="#l"/><text y="-7">mse = 0.0<tspan x="0" y="4.5">samples = 1</tspan><tspan x="0" y="16.5">value = 74.0</tspan></text><use href="#l" class="s"/></g>
<g id="n9_41" class="c76" transform="translate(3818)"><use href="#l"/><text y="-7">mse = 0.0<tspan x="0" y="4.5">samples = 1</tspan><tspan x="0" y="16.5">value = 76.0</tspan></text><use href="#l" class="s"/></g>
<g id="n9_42" class="c74" transform="translate(3857)"><use href="#l"/><text y="-7">mse = 0.0<tspan x="0" y="4.5">samples = 1</tspan><tspan x="0" y="16.5">value = 75.0</tspan></text><use href="#l" class="s"/></g>
<g id="n9_43" class="c82" transform="translate(3892.5)"><use href="#b"/><text y="-14">week_Mon &lt;= 0.5<tspan x="0" y="-2.5">mse = 3.0</tspan><tspan x="0" y="9">samples = 4</tspan><tspan x="0" y="20.5">value = 82.0</tspan></text><use href="#b" class="s"/></g>
<g id="n9_44" class="c76" transform="translate(3930)"><use href="#l"/><text y="-7">mse = 0.0<tspan x="0" y="4.5">samples = 1</tspan><tspan x="0" y="16.5">value = 76.0</tspan></text><use href="#l" class="s"/></g>
<g id="n9_45" class="c74" transform="translate(3986)"><use href="#a"/><text y="-14">historical &lt;= 73.55<tspan x="0" y="-2.5">mse = 2.0</tspan><tspan x="0" y="9">samples = 5</tspan><tspan x="0" y="20.5">value = 74.0</tspan></text><use href="#a" class="s"/></g>
<g id="n9_46" class="c72" transform="translate(4023)"><use href="#l"/><text y="-7">mse = 0.0<tspan x="0" y="4.5">samples = 1</tspan><tspan x="0" y="16.5">value = 72.0</tspan></text><use href="#l" class="s"/></g>
<g id="n9_47" class="c64" transform="translate(4060)"><use href="#l"/><text y="-7">mse = 0.0<tspan x="0" y="4.5">samples = 1</tspan><tspan x="0" y="16.5">value = 65.0</tspan></text><use href="#l" class="s"/></g>
<g id="n9_48" class="c66" transform="translate(4099)"><use href="#l"/><text y="-7">mse = 0.0<tspan x="0" y="4.5">samples = 1</tspan><tspan x="0" y="16.5">value = 66.0</tspan></text><use href="#l" class="s"/></g>
<g id="n9_49" class="c78" transform="translate(4137)"><use href="#l"/><text y="-7">mse = 0.0<tspan x="0" y="4.5">samples = 1</tspan><tspan x="0" y="16.5">value = 78.0</tspan></text><use href="#l" class="s"/></g>
<g id="n9_50" class="c80" transform="translate(4175)"><use href="#l"/><text y="-7">mse = 0.0<tspan x="0" y="4.5">samples = 1</tspan><tspan x="0" y="16.5">value = 80.0</tspan></text><use href="#l" class="s"/></g>
<g id="n9_51" class="c82" transform="translate(4212)"><use href="#l"/><text y="-7">mse = 0.0<tspan x="0" y="4.5">samples = 1</tspan><tspan x="0" y="16.5">value = 82.0</tspan></text><use href="#l" class="s"/></g>
<g id="n9_52" class="c84" transform="translate(4249)"><use href="#l"/><text y="-7">mse = 0.0<tspan x="0" y="4.5">samples = 1</tspan><tspan x="0" y="16.5">value = 84.0</tspan></text><use href="#l" class="s"/></g>
</g>
<g id="r10" transform="translate(0 2998.5)">
<g id="n10_1" class="c40" transform="translate(733)"><use href="#l"/><text y="-7">mse = 0.0<tspan x="0" y="4.5">samples = 1</tspan><tspan x="0" y="16.5">value = 40.0</tspan></text><use href="#l" class="s"/></g>
<g id="n10_2" class="c42" transform="translate(769.5)"><use href="#a"/><text y="-14">temp_lag2 &lt;= 42.5<tspan x="0" y="-2.5">mse = 0.25</tspan><tspan x="0" y="9">samples = 2</tspan><tspan x="0" y="20.5">value = 42.5</tspan></text><use href="#a" class="s"/></g>
<g id="n10_3" class="c54" transform="translate(1022.5)"><use href="#e"/><text y="-14">week_Fri &lt;= 0.5<tspan x="0" y="-2.5">mse = 3.109</tspan><tspan x="0" y="9">samples = 9</tspan><tspan x="0" y="20.5">value = 54.125</tspan></text><use href="#e" class="s"/></g>
<g id="n10_4" class="c56" transform="translate(1153)"><use href="#a"/><text y="-14">temp_lag1 &lt;= 52.5<tspan x="0" y="-2.5">mse = 1.5</tspan><tspan x="0" y="9">samples = 5</tspan><tspan x="0" y="20.5">value = 56.0</tspan></text><use href="#a" class="s"/></g>
<g id="n10_5" class="c54" transform="translate(1229)"><use href="#a"/><text y="-14">temp_lag2 &lt;= 50.5<tspan x="0" y="-2.5">mse = 0.25</tspan><tspan x="0" y="9">samples = 2</tspan><tspan x="0" y="20.5">value = 53.5</tspan></text><use href="#a" class="s"/></g>
<g id="n10_6" class="c50" transform="translate(1266)"><use href="#l"/><text y="-7">mse = 0.0<tspan x="0" y="4.5">samples = 1</tspan><tspan x="0" y="16.5">value = 50.0</tspan></text><use href="#l" class="s"/></g>
<g id="n10_7" class="c52" transform="translate(1304)"><use href="#a"/><text y="-14">temp_lag1 &lt;= 45.5<tspan x="0" y="-2.5">mse = 0.25</tspan><tspan x="0" y="9">samples = 2</tspan><tspan x="0" y="20.5">value = 50.5</tspan></text><use href="#a" class="s"/></g>
<g id="n10_8" class="c52" transform="translate(1341)"><use href="#l"/><text y="-7">mse = 0.0<tspan x="0" y="4.5">samples = 1</tspan><tspan x="0" y="16.5">value = 52.0</tspan></text><use href="#l" class="s"/></g>
<g id="n10_9" class="c56" transform="translate(1550)"><use href="#g"/><text y="-14">day &lt;= 15.5<tspan x="0" y="-2.5">mse = 0.25</tspan><tspan x="0" y="9">samples = 2</tspan><tspan x="0" y="20.5">value = 56.5</tspan></text><use href="#g" class="s"/></g>
<g id="n10_10" class="c56" transform="translate(1624)"><use href="#a"/><text y="-14">temp_lag1 &lt;= 54.5<tspan x="0" y="-2.5">mse = 0.25</tspan><tspan x="0" y="9">samples = 3</tspan><tspan x="0" y="20.5">value = 56.5</tspan></text><use href="#a" class="s"/></g>
<g id="n10_11" class="c54" transform="translate(1699)"><use href="#d"/><text y="-14">week_Sat &lt;= 0.5<tspan x="0" y="-2.5">mse = 0.75</tspan><tspan x="0" y="9">samples = 4</tspan><tspan x="0" y="20.5">value = 53.5</tspan></text><use href="#d" class="s"/></g>
<g id="n10_12" class="c56" transform="translate(1771)"><use href="#f"/><text y="-14">index &lt;= 62.5<tspan x="0" y="-2.5">mse = 0.25</tspan><tspan x="0" y="9">samples = 2</tspan><tspan x="0" y="20.5">value = 55.5</tspan></text><use href="#f" class="s"/></g>
<g id="n10_13" class="c58" transform="translate(1809)"><use href="#l"/><text y="-7">mse = 0.0<tspan x="0" y="4.5">samples = 1</tspan><tspan x="0" y="16.5">value = 58.0</tspan></text><use href="#l" class="s"/></g>
<g id="n10_14" class="c58" transform="translate(1847)"><use href="#l"/><text y="-7">mse = 0.0<tspan x="0" y="4.5">samples = 1</tspan><tspan x="0" y="16.5">value = 59.0</tspan></text><use href="#l" class="s"/></g>
<g id="n10_15" class="c62" transform="translate(2242)"><use href="#a"/><text y="-14">temp_lag1 &lt;= 62.5<tspan x="0" y="-2.5">mse = 0.25</tspan><tspan x="0" y="9">samples = 2</tspan><tspan x="0" y="20.5">value = 62.5</tspan></text><use href="#a" class="s"/></g>
<g id="n10_16" class="c62" transform="translate(2279)"><use href="#l"/><text y="-7">mse = 0.0<tspan x="0" y="4.5">samples = 1</tspan><tspan x="0" y="16.5">value = 62.0</tspan></text><use href="#l" class="s"/></g>
<g id="n10_17" class="c66" transform="translate(2316)"><use href="#l"/><text y="-7">mse = 0.0<tspan x="0" y="4.5">samples = 1</tspan><tspan x="0" y="16.5">value = 65.0</tspan></text><use href="#l" class="s"/></g>
<g id="n10_18" class="c66" transform="translate(2353)"><use href="#l"/><text y="-7">mse = 0.0<tspan x="0" y="4.5">samples = 1</tspan><tspan x="0" y="16.5">value = 66.0</tspan></text><use href="#l" class="s"/></g>
<g id="n10_19" class="c58" transform="translate(2428)"><use href="#l"/><text y="-7">mse = 0.0<tspan x="0" y="4.5">samples = 1</tspan><tspan x="0" y="16.5">value = 58.0</tspan></text><use href="#l" class="s"/></g>
<g id="n10_20" class="c60" transform="translate(2465)"><use href="#l"/><text y="-7">mse = 0.0<tspan x="0" y="4.5">samples = 1</tspan><tspan x="0" y="16.5">value = 60.0</tspan></text><use href="#l" class="s"/></g>
<g id="n10_21" class="c60" transform="translate(2504)"><use href="#l"/><text y="-7">mse = 0.0<tspan x="0" y="4.5">samples = 1</tspan><tspan x="0" y="16.5">value = 60.0</tspan></text><use href="#l" class="s"/></g>
<g id="n10_22" class="c62" transform="translate(2542)"><use href="#e"/><text y="-14">week_Fri &lt;= 0.5<tspan x="0" y="-2.5">mse = 0.25</tspan><tspan x="0" y="9">samples = 2</tspan><tspan x="0" y="20.5">value = 61.5</tspan></text><use href="#e" class="s"/></g>
<g id="n10_23" class="c66" transform="translate(2730)"><use href="#l"/><text y="-7">mse = 0.0<tspan x="0" y="4.5">samples = 1</tspan><tspan x="0" y="16.5">value = 66.0</tspan></text><use href="#l" class="s"/></g>
<g id="n10_24" class="c66" transform="translate(2766)"><use href="#l"/><text y="-7">mse = 0.0<tspan x="0" y="4.5">samples = 2</tspan><tspan x="0" y="16.5">value = 65.0</tspan></text><use href="#l" class="s"/></g>
<g id="n10_25" class="c66" transform="translate(2842)"><use href="#l"/><text y="-7">mse = 0.0<tspan x="0" y="4.5">samples = 1</tspan><tspan x="0" y="16.5">value = 66.0</tspan></text><use href="#l" class="s"/></g>
<g id="n10_26" class="c66" transform="translate(2880)"><use href="#l"/><text y="-7">mse = 0.0<tspan x="0" y="4.5">samples = 1</tspan><tspan x="0" y="16.5">value = 67.0</tspan></text><use href="#l" class="s"/></g>
<g id="n10_27" class="c72" transform="translate(2917.5)"><use href="#a"/><text y="-14">historical &lt;= 57.6<tspan x="0" y="-2.5">mse = 26.96</tspan><tspan x="0" y="9">samples = 6</tspan><tspan x="0" y="20.5">value = 73.1</tspan></text><use href="#a" class="s"/></g>
<g id="n10_28" class="c68" transform="translate(3010)"><use href="#a"/><text y="-14">temp_lag1 &lt;= 67.5<tspan x="0" y="-2.5">mse = 0.96</tspan><tspan x="0" y="9">samples = 5</tspan><tspan x="0" y="20.5">value = 67.8</tspan></text><use href="#a" class="s"/></g>
<g id="n10_29" class="c76" transform="translate(3106)"><use href="#a"/><text y="-14">temp_lag1 &lt;= 69.0<tspan x="0" y="-2.5">mse = 5.087</tspan><tspan x="0" y="9">samples = 9</tspan><tspan x="0" y="20.5">value = 75.357</tspan></text><use href="#a" class="s"/></g>
<g id="n10_30" class="c74" transform="translate(3272)"><use href="#a"/><text y="-14">historical &lt;= 72.9<tspan x="0" y="-2.5">mse = 8.0</tspan><tspan x="0" y="9">samples = 12</tspan><tspan x="0" y="20.5">value = 73.0</tspan></text><use href="#a" class="s"/></g>
<g id="n10_31" class="c68" transform="translate(3349)"><use href="#a"/><text y="-14">temp_lag2 &lt;= 66.5<tspan x="0" y="-2.5">mse = 1.0</tspan><tspan x="0" y="9">samples = 3</tspan><tspan x="0" y="20.5">value = 69.0</tspan></text><use href="#a" class="s"/></g>
<g id="n10_32" class="c70" transform="translate(3423)"><use href="#a"/><text y="-14">temp_lag1 &lt;= 72.5<tspan x="0" y="-2.5">mse = 1.0</tspan><tspan x="0" y="9">samples = 2</tspan><tspan x="0" y="20.5">value = 70.0</tspan></text><use href="#a" class="s"/></g>
<g id="n10_33" class="c74" transform="translate(3461)"><use href="#l"/><text y="-7">mse = 0.0<tspan x="0" y="4.5">samples = 1</tspan><tspan x="0" y="16.5">value = 74.0</tspan></text><use href="#l" class="s"/></g>
<g id="n10_34" class="c78" transform="translate(3498)"><use href="#l"/><text y="-7">mse = 0.0<tspan x="0" y="4.5">samples = 1</tspan><tspan x="0" y="16.5">value = 79.0</tspan></text><use href="#l" class="s"/></g>
<g id="n10_35" class="c84" transform="translate(3873)"><use href="#f"/><text y="-14">index &lt;= 71.0<tspan x="0" y="-2.5">mse = 0.25</tspan><tspan x="0" y="9">samples = 2</tspan><tspan x="0" y="20.5">value = 83.5</tspan></text><use href="#f" class="s"/></g>
<g id="n10_36" class="c80" transform="translate(3911)"><use href="#l"/><text y="-7">mse = 0.0<tspan x="0" y="4.5">samples = 1</tspan><tspan x="0" y="16.5">value = 80.0</tspan></text><use href="#l" class="s"/></g>
<g id="n10_37" class="c76" transform="translate(3950)"><use href="#g"/><text y="-14">day &lt;= 13.5<tspan x="0" y="-2.5">mse = 0.25</tspan><tspan x="0" y="9">samples = 2</tspan><tspan x="0" y="20.5">value = 75.5</tspan></text><use href="#g" class="s"/></g>
<g id="n10_38" class="c74" transform="translate(4023.5)"><use href="#a"/><text y="-14">temp_lag2 &lt;= 73.0<tspan x="0" y="-2.5">mse = 0.5</tspan><tspan x="0" y="9">samples = 4</tspan><tspan x="0" y="20.5">value = 74.0</tspan></text><use href="#a" class="s"/></g>
</g>
<g id="r11" transform="translate(0 3229.5)">
<g id="n11_1" class="c42" transform="translate(751)"><use href="#l"/><text y="-7">mse = 0.0<tspan x="0" y="4.5">samples = 1</tspan><tspan x="0" y="16.5">value = 42.0</tspan></text><use href="#l" class="s"/></g>
<g id="n11_2" class="c42" transform="translate(788)"><use href="#l"/><text y="-7">mse = 0.0<tspan x="0" y="4.5">samples = 1</tspan><tspan x="0" y="16.5">value = 43.0</tspan></text><use href="#l" class="s"/></g>
<g id="n11_3" class="c54" transform="translate(985)"><use href="#b"/><text y="-14">week_Mon &lt;= 0.5<tspan x="0" y="-2.5">mse = 0.25</tspan><tspan x="0" y="9">samples = 3</tspan><tspan x="0" y="20.5">value = 53.5</tspan></text><use href="#b" class="s"/></g>
<g id="n11_4" class="c56" transform="translate(1058)"><use href="#a"/><text y="-14">historical &lt;= 52.65<tspan x="0" y="-2.5">mse = 2.8</tspan><tspan x="0" y="9">samples = 5</tspan><tspan x="0" y="20.5">value = 55.2</tspan></text><use href="#a" class="s"/></g>
<g id="n11_5" class="c56" transform="translate(1134.5)"><use href="#e"/><text y="-14">week_Fri &lt;= 0.5<tspan x="0" y="-2.5">mse = 0.222</tspan><tspan x="0" y="9">samples = 3</tspan><tspan x="0" y="20.5">value = 57.0</tspan></text><use href="#e" class="s"/></g>
<g id="n11_6" class="c54" transform="translate(1172)"><use href="#l"/><text y="-7">mse = 0.0<tspan x="0" y="4.5">samples = 1</tspan><tspan x="0" y="16.5">value = 54.0</tspan></text><use href="#l" class="s"/></g>
<g id="n11_7" class="c54" transform="translate(1210)"><use href="#l"/><text y="-7">mse = 0.0<tspan x="0" y="4.5">samples = 1</tspan><tspan x="0" y="16.5">value = 54.0</tspan></text><use href="#l" class="s"/></g>
<g id="n11_8" class="c52" transform="translate(1247)"><use href="#l"/><text y="-7">mse = 0.0<tspan x="0" y="4.5">samples = 1</tspan><tspan x="0" y="16.5">value = 53.0</tspan></text><use href="#l" class="s"/></g>
<g id="n11_9" class="c52" transform="translate(1285)"><use href="#l"/><text y="-7">mse = 0.0<tspan x="0" y="4.5">samples = 1</tspan><tspan x="0" y="16.5">value = 51.0</tspan></text><use href="#l" class="s"/></g>
<g id="n11_10" class="c50" transform="translate(1321)"><use href="#l"/><text y="-7">mse = 0.0<tspan x="0" y="4.5">samples = 1</tspan><tspan x="0" y="16.5">value = 50.0</tspan></text><use href="#l" class="s"/></g>
<g id="n11_11" class="c56" transform="translate(1529)"><use href="#l"/><text y="-7">mse = 0.0<tspan x="0" y="4.5">samples = 1</tspan><tspan x="0" y="16.5">value = 56.0</tspan></text><use href="#l" class="s"/></g>
<g id="n11_12" class="c56" transform="translate(1566)"><use href="#l"/><text y="-7">mse = 0.0<tspan x="0" y="4.5">samples = 1</tspan><tspan x="0" y="16.5">value = 57.0</tspan></text><use href="#l" class="s"/></g>
<g id="n11_13" class="c56" transform="translate(1603)"><use href="#l"/><text y="-7">mse = 0.0<tspan x="0" y="4.5">samples = 1</tspan><tspan x="0" y="16.5">value = 56.0</tspan></text><use href="#l" class="s"/></g>
<g id="n11_14" class="c56" transform="translate(1641)"><use href="#l"/><text y="-7">mse = 0.0<tspan x="0" y="4.5">samples = 1</tspan><tspan x="0" y="16.5">value = 57.0</tspan></text><use href="#l" class="s"/></g>
<g id="n11_15" class="c54" transform="translate(1679)"><use href="#l"/><text y="-7">mse = 0.0<tspan x="0" y="4.5">samples = 1</tspan><tspan x="0" y="16.5">value = 53.0</tspan></text><use href="#l" class="s"/></g>
<g id="n11_16" class="c54" transform="translate(1716)"><use href="#l"/><text y="-7">mse = 0.0<tspan x="0" y="4.5">samples = 1</tspan><tspan x="0" y="16.5">value = 54.0</tspan></text><use href="#l" class="s"/></g>
<g id="n11_17" class="c54" transform="translate(1753)"><use href="#l"/><text y="-7">mse = 0.0<tspan x="0" y="4.5">samples = 1</tspan><tspan x="0" y="16.5">value = 55.0</tspan></text><use href="#l" class="s"/></g>
<g id="n11_18" class="c56" transform="translate(1790.5)"><use href="#l"/><text y="-7">mse = 0.0<tspan x="0" y="4.5">samples = 1</tspan><tspan x="0" y="16.5">value = 57.0</tspan></text><use href="#l" class="s"/></g>
<g id="n11_19" class="c64" transform="translate(2223)"><use href="#l"/><text y="-7">mse = 0.0<tspan x="0" y="4.5">samples = 1</tspan><tspan x="0" y="16.5">value = 63.0</tspan></text><use href="#l" class="s"/></g>
<g id="n11_20" class="c62" transform="translate(2260)"><use href="#l"/><text y="-7">mse = 0.0<tspan x="0" y="4.5">samples = 1</tspan><tspan x="0" y="16.5">value = 62.0</tspan></text><use href="#l" class="s"/></g>
<g id="n11_21" class="c62" transform="translate(2523)"><use href="#l"/><text y="-7">mse = 0.0<tspan x="0" y="4.5">samples = 1</tspan><tspan x="0" y="16.5">value = 62.0</tspan></text><use href="#l" class="s"/></g>
<g id="n11_22" class="c60" transform="translate(2560)"><use href="#l"/><text y="-7">mse = 0.0<tspan x="0" y="4.5">samples = 1</tspan><tspan x="0" y="16.5">value = 61.0</tspan></text><use href="#l" class="s"/></g>
<g id="n11_23" class="c70" transform="translate(2880)"><use href="#d"/><text y="-14">week_Sat &lt;= 0.5<tspan x="0" y="-2.5">mse = 1.25</tspan><tspan x="0" y="9">samples = 3</tspan><tspan x="0" y="20.5">value = 69.5</tspan></text><use href="#d" class="s"/></g>
<g id="n11_24" class="c78" transform="translate(2953)"><use href="#a"/><text y="-14">historical &lt;= 60.4<tspan x="0" y="-2.5">mse = 0.25</tspan><tspan x="0" y="9">samples = 3</tspan><tspan x="0" y="20.5">value = 78.5</tspan></text><use href="#a" class="s"/></g>
<g id="n11_25" class="c66" transform="translate(2991)"><use href="#l"/><text y="-7">mse = 0.0<tspan x="0" y="4.5">samples = 1</tspan><tspan x="0" y="16.5">value = 66.0</tspan></text><use href="#l" class="s"/></g>
<g id="n11_26" class="c68" transform="translate(3029)"><use href="#a"/><text y="-14">historical &lt;= 65.6<tspan x="0" y="-2.5">mse = 0.222</tspan><tspan x="0" y="9">samples = 4</tspan><tspan x="0" y="20.5">value = 68.3</tspan></text><use href="#a" class="s"/></g>
<g id="n11_27" class="c74" transform="translate(3086)"><use href="#l"/><text y="-7">mse = 0.0<tspan x="0" y="4.5">samples = 1</tspan><tspan x="0" y="16.5">value = 74.0</tspan></text><use href="#l" class="s"/></g>
<g id="n11_28" class="c76" transform="translate(3124)"><use href="#a"/><text y="-14">temp_lag2 &lt;= 75.5<tspan x="0" y="-2.5">mse = 2.13</tspan><tspan x="0" y="9">samples = 8</tspan><tspan x="0" y="20.5">value = 75.846</tspan></text><use href="#a" class="s"/></g>
<g id="n11_29" class="c72" transform="translate(3255.5)"><use href="#a"/><text y="-14">historical &lt;= 69.95<tspan x="0" y="-2.5">mse = 7.0</tspan><tspan x="0" y="9">samples = 11</tspan><tspan x="0" y="20.5">value = 72.0</tspan></text><use href="#a" class="s"/></g>
<g id="n11_30" class="c76" transform="translate(3293)"><use href="#l"/><text y="-7">mse = 0.0<tspan x="0" y="4.5">samples = 1</tspan><tspan x="0" y="16.5">value = 76.0</tspan></text><use href="#l" class="s"/></g>
<g id="n11_31" class="c70" transform="translate(3329)"><use href="#f"/><text y="-14">index &lt;= 42.5<tspan x="0" y="-2.5">mse = 0.25</tspan><tspan x="0" y="9">samples = 2</tspan><tspan x="0" y="20.5">value = 69.5</tspan></text><use href="#f" class="s"/></g>
<g id="n11_32" class="c68" transform="translate(3367)"><use href="#l"/><text y="-7">mse = 0.0<tspan x="0" y="4.5">samples = 1</tspan><tspan x="0" y="16.5">value = 68.0</tspan></text><use href="#l" class="s"/></g>
<g id="n11_33" class="c70" transform="translate(3405)"><use href="#l"/><text y="-7">mse = 0.0<tspan x="0" y="4.5">samples = 1</tspan><tspan x="0" y="16.5">value = 70.0</tspan></text><use href="#l" class="s"/></g>
<g id="n11_34" class="c72" transform="translate(3442)"><use href="#l"/><text y="-7">mse = 0.0<tspan x="0" y="4.5">samples = 1</tspan><tspan x="0" y="16.5">value = 73.0</tspan></text><use href="#l" class="s"/></g>
<g id="n11_35" class="c84" transform="translate(3855)"><use href="#l"/><text y="-7">mse = 0.0<tspan x="0" y="4.5">samples = 1</tspan><tspan x="0" y="16.5">value = 84.0</tspan></text><use href="#l" class="s"/></g>
<g id="n11_36" class="c84" transform="translate(3892)"><use href="#l"/><text y="-7">mse = 0.0<tspan x="0" y="4.5">samples = 1</tspan><tspan x="0" y="16.5">value = 83.0</tspan></text><use href="#l" class="s"/></g>
<g id="n11_37" class="c76" transform="translate(3930)"><use href="#l"/><text y="-7">mse = 0.0<tspan x="0" y="4.5">samples = 1</tspan><tspan x="0" y="16.5">value = 76.0</tspan></text><use href="#l" class="s"/></g>
<g id="n11_38" class="c74" transform="translate(3968)"><use href="#l"/><text y="-7">mse = 0.0<tspan x="0" y="4.5">samples = 1</tspan><tspan x="0" y="16.5">value = 75.0</tspan></text><use href="#l" class="s"/></g>
<g id="n11_39" class="c74" transform="translate(4006)"><use href="#l"/><text y="-7">mse = 0.0<tspan x="0" y="4.5">samples = 1</tspan><tspan x="0" y="16.5">value = 74.0</tspan></text><use href="#l" class="s"/></g>
<g id="n11_40" class="c74" transform="translate(4043)"><use href="#f"/><text y="-14">index &lt;= 184.0<tspan x="0" y="-2.5">mse = 0.222</tspan><tspan x="0" y="9">samples = 3</tspan><tspan x="0" y="20.5">value = 74.333</tspan></text><use href="#f" class="s"/></g>
</g>
<g id="r12" transform="translate(0 3460.5)">
<g id="n12_1" class="c54" transform="translate(966)"><use href="#l"/><text y="-7">mse = 0.0<tspan x="0" y="4.5">samples = 1</tspan><tspan x="0" y="16.5">value = 54.0</tspan></text><use href="#l" class="s"/></g>
<g id="n12_2" class="c54" transform="translate(1004)"><use href="#l"/><text y="-7">mse = 0.0<tspan x="0" y="4.5">samples = 1</tspan><tspan x="0" y="16.5">value = 53.0</tspan></text><use href="#l" class="s"/></g>
<g id="n12_3" class="c54" transform="translate(1040)"><use href="#l"/><text y="-7">mse = 0.0<tspan x="0" y="4.5">samples = 1</tspan><tspan x="0" y="16.5">value = 54.0</tspan></text><use href="#l" class="s"/></g>
<g id="n12_4" class="c56" transform="translate(1079.5)"><use href="#a"/><text y="-14">historical &lt;= 49.4<tspan x="0" y="-2.5">mse = 0.222</tspan><tspan x="0" y="9">samples = 3</tspan><tspan x="0" y="20.5">value = 55.333</tspan></text><use href="#a" class="s"/></g>
<g id="n12_5" class="c56" transform="translate(1117)"><use href="#l"/><text y="-7">mse = 0.0<tspan x="0" y="4.5">samples = 1</tspan><tspan x="0" y="16.5">value = 57.0</tspan></text><use href="#l" class="s"/></g>
<g id="n12_6" class="c58" transform="translate(1154)"><use href="#l"/><text y="-7">mse = 0.0<tspan x="0" y="4.5">samples = 1</tspan><tspan x="0" y="16.5">value = 58.0</tspan></text><use href="#l" class="s"/></g>
<g id="n12_7" class="c70" transform="translate(2861.5)"><use href="#a"/><text y="-14">historical &lt;= 59.85<tspan x="0" y="-2.5">mse = 0.25</tspan><tspan x="0" y="9">samples = 2</tspan><tspan x="0" y="20.5">value = 70.5</tspan></text><use href="#a" class="s"/></g>
<g id="n12_8" class="c68" transform="translate(2898)"><use href="#l"/><text y="-7">mse = 0.0<tspan x="0" y="4.5">samples = 1</tspan><tspan x="0" y="16.5">value = 68.0</tspan></text><use href="#l" class="s"/></g>
<g id="n12_9" class="c78" transform="translate(2935)"><use href="#l"/><text y="-7">mse = 0.0<tspan x="0" y="4.5">samples = 1</tspan><tspan x="0" y="16.5">value = 78.0</tspan></text><use href="#l" class="s"/></g>
<g id="n12_10" class="c78" transform="translate(2973)"><use href="#l"/><text y="-7">mse = 0.0<tspan x="0" y="4.5">samples = 1</tspan><tspan x="0" y="16.5">value = 79.0</tspan></text><use href="#l" class="s"/></g>
<g id="n12_11" class="c68" transform="translate(3010)"><use href="#l"/><text y="-7">mse = 0.0<tspan x="0" y="4.5">samples = 1</tspan><tspan x="0" y="16.5">value = 68.0</tspan></text><use href="#l" class="s"/></g>
<g id="n12_12" class="c68" transform="translate(3048)"><use href="#l"/><text y="-7">mse = 0.0<tspan x="0" y="4.5">samples = 1</tspan><tspan x="0" y="16.5">value = 69.0</tspan></text><use href="#l" class="s"/></g>
<g id="n12_13" class="c76" transform="translate(3087)"><use href="#b"/><text y="-14">week_Sun &lt;= 0.5<tspan x="0" y="-2.5">mse = 1.0</tspan><tspan x="0" y="9">samples = 4</tspan><tspan x="0" y="20.5">value = 77.0</tspan></text><use href="#b" class="s"/></g>
<g id="n12_14" class="c74" transform="translate(3160)"><use href="#a"/><text y="-14">historical &lt;= 78.4<tspan x="0" y="-2.5">mse = 0.5</tspan><tspan x="0" y="9">samples = 4</tspan><tspan x="0" y="20.5">value = 75.0</tspan></text><use href="#a" class="s"/></g>
<g id="n12_15" class="c72" transform="translate(3236.5)"><use href="#b"/><text y="-14">week_Mon &lt;= 0.5<tspan x="0" y="-2.5">mse = 2.0</tspan><tspan x="0" y="9">samples = 8</tspan><tspan x="0" y="20.5">value = 71.5</tspan></text><use href="#b" class="s"/></g>
<g id="n12_16" class="c76" transform="translate(3271.5)"><use href="#l"/><text y="-7">mse = 0.0<tspan x="0" y="4.5">samples = 1</tspan><tspan x="0" y="16.5">value = 76.0</tspan></text><use href="#l" class="s"/></g>
<g id="n12_17" class="c70" transform="translate(3310)"><use href="#l"/><text y="-7">mse = 0.0<tspan x="0" y="4.5">samples = 1</tspan><tspan x="0" y="16.5">value = 70.0</tspan></text><use href="#l" class="s"/></g>
<g id="n12_18" class="c68" transform="translate(3347)"><use href="#l"/><text y="-7">mse = 0.0<tspan x="0" y="4.5">samples = 3</tspan><tspan x="0" y="16.5">value = 68.0</tspan></text><use href="#l" class="s"/></g>
<g id="n12_19" class="c74" transform="translate(4026)"><use href="#l"/><text y="-7">mse = 0.0<tspan x="0" y="4.5">samples = 1</tspan><tspan x="0" y="16.5">value = 74.0</tspan></text><use href="#l" class="s"/></g>
<g id="n12_20" class="c74" transform="translate(4060)"><use href="#l"/><text y="-7">mse = 0.0<tspan x="0" y="4.5">samples = 2</tspan><tspan x="0" y="16.5">value = 75.0</tspan></text><use href="#l" class="s"/></g>
</g>
<g id="r13" transform="translate(0 3691.5)">
<g id="n13_1" class="c56" transform="translate(1060)"><use href="#l"/><text y="-7">mse = 0.0<tspan x="0" y="4.5">samples = 1</tspan><tspan x="0" y="16.5">value = 56.0</tspan></text><use href="#l" class="s"/></g>
<g id="n13_2" class="c54" transform="translate(1097)"><use href="#l"/><text y="-7">mse = 0.0<tspan x="0" y="4.5">samples = 1</tspan><tspan x="0" y="16.5">value = 55.0</tspan></text><use href="#l" class="s"/></g>
<g id="n13_3" class="c70" transform="translate(2841.5)"><use href="#l"/><text y="-7">mse = 0.0<tspan x="0" y="4.5">samples = 1</tspan><tspan x="0" y="16.5">value = 70.0</tspan></text><use href="#l" class="s"/></g>
<g id="n13_4" class="c70" transform="translate(2879)"><use href="#l"/><text y="-7">mse = 0.0<tspan x="0" y="4.5">samples = 1</tspan><tspan x="0" y="16.5">value = 71.0</tspan></text><use href="#l" class="s"/></g>
<g id="n13_5" class="c76" transform="translate(3067)"><use href="#d"/><text y="-14">week_Sun &lt;= 0.5<tspan x="0" y="-2.5">mse = 1.0</tspan><tspan x="0" y="9">samples = 3</tspan><tspan x="0" y="20.5">value = 76.0</tspan></text><use href="#d" class="s"/></g>
<g id="n13_6" class="c78" transform="translate(3104)"><use href="#l"/><text y="-7">mse = 0.0<tspan x="0" y="4.5">samples = 1</tspan><tspan x="0" y="16.5">value = 78.0</tspan></text><use href="#l" class="s"/></g>
<g id="n13_7" class="c76" transform="translate(3141)"><use href="#l"/><text y="-7">mse = 0.0<tspan x="0" y="4.5">samples = 1</tspan><tspan x="0" y="16.5">value = 76.0</tspan></text><use href="#l" class="s"/></g>
<g id="n13_8" class="c74" transform="translate(3180)"><use href="#f"/><text y="-14">index &lt;= 238.0<tspan x="0" y="-2.5">mse = 0.25</tspan><tspan x="0" y="9">samples = 2</tspan><tspan x="0" y="20.5">value = 74.5</tspan></text><use href="#f" class="s"/></g>
<g id="n13_9" class="c72" transform="translate(3217)"><use href="#l"/><text y="-7">mse = 0.0<tspan x="0" y="4.5">samples = 1</tspan><tspan x="0" y="16.5">value = 72.0</tspan></text><use href="#l" class="s"/></g>
<g id="n13_10" class="c68" transform="translate(3255)"><use href="#l"/><text y="-7">mse = 0.0<tspan x="0" y="4.5">samples = 2</tspan><tspan x="0" y="16.5">value = 68.0</tspan></text><use href="#l" class="s"/></g>
</g>
<g id="r14" transform="translate(0 3922.5)">
<g id="n14_1" class="c76" transform="translate(3048)"><use href="#f"/><text y="-14">month &lt;= 8.5<tspan x="0" y="-2.5">mse = 0.25</tspan><tspan x="0" y="9">samples = 2</tspan><tspan x="0" y="20.5">value = 75.5</tspan></text><use href="#f" class="s"/></g>
<g id="n14_2" class="c76" transform="translate(3086)"><use href="#l"/><text y="-7">mse = 0.0<tspan x="0" y="4.5">samples = 1</tspan><tspan x="0" y="16.5">value = 77.0</tspan></text><use href="#l" class="s"/></g>
<g id="n14_3" class="c74" transform="translate(3160)"><use href="#l"/><text y="-7">mse = 0.0<tspan x="0" y="4.5">samples = 1</tspan><tspan x="0" y="16.5">value = 75.0</tspan></text><use href="#l" class="s"/></g>
<g id="n14_4" class="c74" transform="translate(3198)"><use href="#l"/><text y="-7">mse = 0.0<tspan x="0" y="4.5">samples = 1</tspan><tspan x="0" y="16.5">value = 74.0</tspan></text><use href="#l" class="s"/></g>
</g>
<g id="r15" transform="translate(0 4153.5)">
<g id="n15_1" class="c76" transform="translate(3030)"><use href="#l"/><text y="-7">mse = 0.0<tspan x="0" y="4.5">samples = 1</tspan><tspan x="0" y="16.5">value = 77.0</tspan></text><use href="#l" class="s"/></g>
<g id="n15_2" class="c74" transform="translate(3066.5)"><use href="#l"/><text y="-7">mse = 0.0<tspan x="0" y="4.5">samples = 1</tspan><tspan x="0" y="16.5">value = 74.0</tspan></text><use href="#l" class="s"/></g>
</g>
</svg>
